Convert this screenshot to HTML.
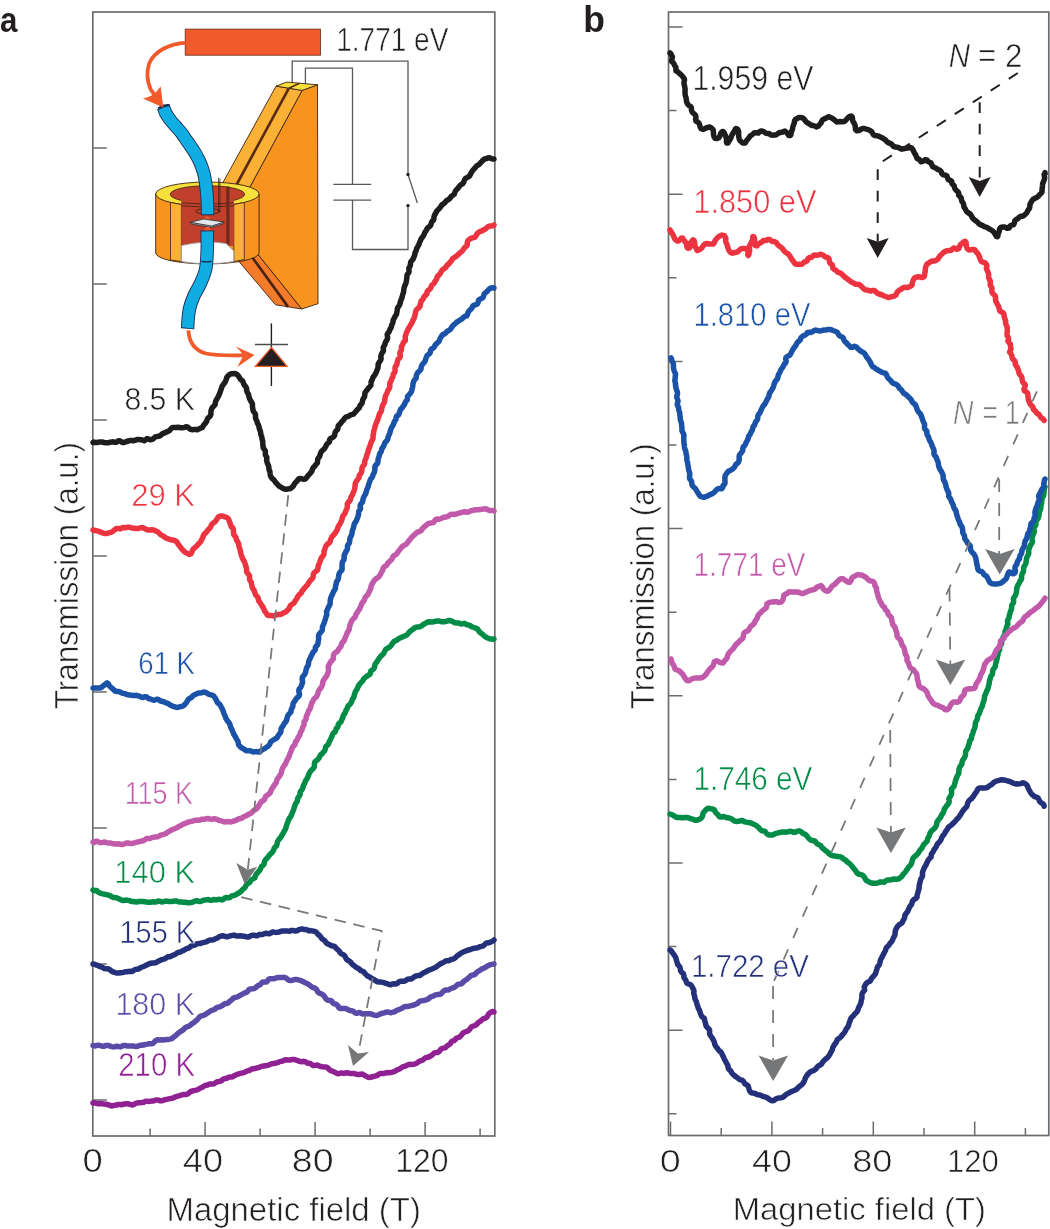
<!DOCTYPE html>
<html><head><meta charset="utf-8"><title>Figure</title>
<style>html,body{margin:0;padding:0;background:#fff;}body{width:1050px;height:1229px;overflow:hidden;}svg{display:block;}</style>
</head><body>
<svg width="1050" height="1229" viewBox="0 0 1050 1229">
<rect x="92.8" y="12" width="402" height="1124" fill="none" stroke="#6b6c6e" stroke-width="1.7"/>
<rect x="668.5" y="12" width="380.3" height="1123.5" fill="none" stroke="#6b6c6e" stroke-width="1.7"/>
<path d="M92.8,148 h14 M92.8,284 h14 M92.8,420 h14 M92.8,556 h14 M92.8,692 h14 M92.8,828 h14 M92.8,964 h14 M92.8,1100 h14 M150.1,1136 v-7.5 M205.1,1136 v-14 M260.1,1136 v-7.5 M315.1,1136 v-14 M370.1,1136 v-7.5 M425.1,1136 v-14 M480.1,1136 v-7.5 M668.5,27 h14 M668.5,110.6 h8 M668.5,194.2 h14 M668.5,277.8 h8 M668.5,361.4 h14 M668.5,445 h8 M668.5,528.6 h14 M668.5,612.2 h8 M668.5,695.8 h14 M668.5,779.4 h8 M668.5,863 h14 M668.5,946.6 h8 M668.5,1030.2 h14 M668.5,1113.8 h8 M670.5,1135.5 v-14 M721.2,1135.5 v-7.5 M771.9,1135.5 v-14 M822.6,1135.5 v-7.5 M873.3,1135.5 v-14 M924,1135.5 v-7.5 M974.7,1135.5 v-14 M1025.4,1135.5 v-7.5" stroke="#6b6c6e" stroke-width="1.5" fill="none"/>
<g id="inset">
<!-- circuit wires -->
<path d="M292.2,84 V61.1 H408 V174.5 M408,205.6 V249.5 H352.5 V200.1 M305.4,88 V68.1 H352.5 V184.3 M333.3,184.3 H371.2 M333.3,200.1 H371.2 M408,174.5 L417.4,203" fill="none" stroke="#58595b" stroke-width="1.3"/>
<circle cx="408" cy="174.5" r="1.7" fill="#231f20"/><circle cx="408" cy="205.6" r="1.7" fill="#231f20"/>
<!-- laser -->
<rect x="185.2" y="29.1" width="135.3" height="26.1" fill="#f15a2b" stroke="#6b2a18" stroke-width="0.8"/>
<!-- prism front face -->
<path d="M302.1,90.4 L317.5,84.8 L318,303.7 L301.7,309 L258.8,255.5 L231.4,221.3 Z" fill="#f7941e" stroke="#3b2314" stroke-width="0.9" stroke-linejoin="round"/>
<!-- upper slanted strip face -->
<path d="M276.1,86.1 L302.1,90.4 L231.4,221.3 L205,215 Z" fill="#fbb036" stroke="#3b2314" stroke-width="0.9" stroke-linejoin="round"/>
<path d="M288.8,88.3 L225,206" stroke="#5b2c14" stroke-width="2.7"/>
<!-- top face -->
<path d="M276.1,86.1 L286.7,82.1 L317.5,84.8 L302.1,90.4 Z" fill="#f5e03c" stroke="#3b2314" stroke-width="0.9" stroke-linejoin="round"/>
<path d="M288.8,88.3 L299.5,83.2" stroke="#5b2c14" stroke-width="1.6"/>
<!-- lower slanted strip -->
<path d="M231.4,221.3 L258.8,255.5 L301.7,309 L275.5,304.8 L236,258 Z" fill="#f47b2a" stroke="#3b2314" stroke-width="0.9" stroke-linejoin="round"/>
<path d="M247,250 L288.1,306.9" stroke="#4a2412" stroke-width="2.7"/>
<!-- cylinder -->
<path d="M155.7,194 L155.7,252.9 A51.7,11 0 0 0 259.1,252.9 L259.1,194 Z" fill="#f7941e" stroke="#3b2314" stroke-width="0.9"/>
<ellipse cx="207.4" cy="194" rx="51.7" ry="12" fill="#f5e03c" stroke="#3b2314" stroke-width="0.9"/>
<ellipse cx="207.4" cy="194.3" rx="37.2" ry="8.6" fill="#c1402b" stroke="#3b2314" stroke-width="0.8"/>
<!-- cut-away front -->
<path d="M170.5,202.5 L181.4,204.5 L181.4,261.5 L170.5,260 Z" fill="#fbb036" stroke="#3b2314" stroke-width="0.8"/>
<path d="M233.8,204.5 L244.3,202.5 L244.3,259.5 L233.8,261.5 Z" fill="#fbb036" stroke="#3b2314" stroke-width="0.8"/>
<path d="M181.4,194.3 L233.8,194.3 L233.8,246 L181.4,246 Z" fill="#c1402b"/>
<path d="M181.4,202.9 Q207.4,205.5 233.8,202.9" fill="none" stroke="#3b2314" stroke-width="0.8"/>
<path d="M181.4,205.8 Q207.4,208.5 233.8,205.8" fill="none" stroke="#3b2314" stroke-width="0.8"/>
<rect x="226.3" y="186.5" width="3.2" height="58" fill="#6e2a1a"/>
<path d="M181.4,245.5 Q207.4,239.5 226,243.5 L233.8,251 L233.8,261.5 Q207.4,266 181.4,261.5 Z" fill="#ffffff" stroke="#9a9a9a" stroke-width="0.9"/>
<!-- coil -->
<ellipse cx="207.7" cy="211.3" rx="12" ry="2.8" fill="none" stroke="#3b2314" stroke-width="0.9"/>
<path d="M218.6,213 V177.7 M219.9,212 V178.5" stroke="#3b2314" stroke-width="0.8"/>
<!-- fiber top -->
<path d="M163.4,106.8 C163.8,107.9 164.7,111.1 165.8,113.3 C167,115.5 168.6,117.8 170.3,120 C172,122.2 174.1,124.5 176,126.7 C177.9,128.9 180,131.1 181.7,133.3 C183.4,135.5 184.8,137.8 186.3,140 C187.9,142.2 189.5,144.5 191,146.7 C192.5,148.9 194,151.1 195.3,153.3 C196.6,155.5 197.8,157.8 198.9,160 C200,162.2 200.8,164.4 201.7,166.7 C202.5,169 203.3,171.3 204,174 C204.7,176.7 205.1,179.4 205.6,182.8 C206.1,186.2 206.6,190.4 206.9,194.2 C207.2,198 207.4,202.1 207.5,205.6 C207.6,209.1 207.6,213.6 207.6,215.2" fill="none" stroke="#1c2b4f" stroke-width="13.4"/>
<path d="M163.7,107.6 C164.1,108.6 164.7,111.2 165.8,113.3 C166.9,115.4 168.6,117.8 170.3,120 C172,122.2 174.1,124.5 176,126.7 C177.9,128.9 180,131.1 181.7,133.3 C183.4,135.5 184.8,137.8 186.3,140 C187.9,142.2 189.5,144.5 191,146.7 C192.5,148.9 194,151.1 195.3,153.3 C196.6,155.5 197.8,157.8 198.9,160 C200,162.2 200.8,164.4 201.7,166.7 C202.5,169 203.3,171.3 204,174 C204.7,176.7 205.1,179.4 205.6,182.8 C206.1,186.2 206.6,190.4 206.9,194.2 C207.2,198 207.4,202.2 207.5,205.6 C207.6,209 207.6,212.9 207.6,214.3" fill="none" stroke="#10ade3" stroke-width="11.6"/>
<path d="M158.3,108.3 Q163.5,104.5 169.4,105.2" fill="none" stroke="#1c2b4f" stroke-width="2.2"/>
<!-- sample -->
<circle cx="207.1" cy="219.2" r="2.6" fill="#f15a2b"/>
<path d="M190.5,222.3 L190.8,224 L211.5,227.6 L224,223.6 L224,222 Z" fill="#8a8f96" stroke="#2d2d2d" stroke-width="0.7" stroke-linejoin="round"/>
<path d="M190.5,222.3 L203.5,219 L224,222 L211.5,226 Z" fill="#e4e7eb" stroke="#2d2d2d" stroke-width="0.8" stroke-linejoin="round"/>
<circle cx="207.6" cy="229.4" r="2.6" fill="#f15a2b"/>
<!-- fiber bottom -->
<path d="M207.2,230.5 C207.2,232.9 207.3,240.9 207.3,245 C207.3,249.1 207.2,251.9 207,255 C206.8,258.1 206.8,260.8 206.4,263.7 C206.1,266.6 206,268.8 204.9,272.2 C203.8,275.6 201.9,280.3 200,284.4 C198.1,288.5 195.3,292.5 193.6,296.6 C191.8,300.7 190.4,304.7 189.5,308.8 C188.6,312.9 188.3,317.7 188,321 C187.7,324.3 187.7,327.5 187.6,328.8" fill="none" stroke="#1c2b4f" stroke-width="13.4"/>
<path d="M207.2,231.4 C207.2,233.7 207.3,241.1 207.3,245 C207.3,248.9 207.2,251.9 207,255 C206.8,258.1 206.8,260.8 206.4,263.7 C206.1,266.6 206,268.8 204.9,272.2 C203.8,275.6 201.9,280.3 200,284.4 C198.1,288.5 195.3,292.5 193.6,296.6 C191.8,300.7 190.4,304.7 189.5,308.8 C188.6,312.9 188.3,317.8 188,321 C187.7,324.2 187.7,326.8 187.6,327.9" fill="none" stroke="#10ade3" stroke-width="11.6"/>
<path d="M201.5,261.3 Q206.5,262.3 211.5,261.3" fill="none" stroke="#1c2b4f" stroke-width="1.2"/>
<!-- arrows -->
<path d="M185.5,42.8 C170,43.5 154,51 149,64 C146.5,72 147.5,82 150.5,89 L156.5,98" fill="none" stroke="#f15a2b" stroke-width="3.8"/>
<path d="M163.3,107.4 L142.9,98.4 Q151,96.8 154.8,93.2 Q158.5,89.8 160.6,86.3 Z" fill="#f15a2b"/>
<path d="M188.4,330.3 C189,342 194,350 206,353.5 C217,356 230,355.3 246,355.2" fill="none" stroke="#f15a2b" stroke-width="3.8"/>
<path d="M254.6,355.1 L235.7,346.6 Q240.5,351 243.4,355.2 Q240.5,361 237.4,367.1 Z" fill="#f15a2b"/>
<!-- diode -->
<path d="M271.4,323.4 V386" stroke="#231f20" stroke-width="1.4"/><path d="M254.9,344.5 H288" stroke="#4d4d4f" stroke-width="1.3"/>
<path d="M271.4,347.4 L287.1,366.3 L255.4,366.3 Z" fill="#231f20" stroke="#f15a2b" stroke-width="1.3" stroke-linejoin="miter"/>
</g>

<path d="M93,1103 L94.1,1102.7 L95.3,1103 L96.8,1103.5 L98.4,1103.7 L100.3,1103.5 L102.2,1103.8 L104.2,1104.1 L106.2,1104.3 L108.1,1104.7 L110,1105.4 L111.6,1106 L113.2,1105.6 L114.8,1105.2 L116.4,1105.1 L118.1,1104.6 L119.8,1104.5 L121.5,1104.7 L123.2,1104.3 L124.9,1103.9 L126.6,1103.7 L128.3,1103.8 L130,1104.4 L131.8,1105 L133.5,1104.7 L135.1,1103.7 L136.8,1102.9 L138.5,1102.8 L140.3,1102.7 L142,1102.5 L143.7,1102.2 L145.2,1101.4 L146.9,1101.1 L148.5,1101.4 L150,1101.3 L151.8,1101.1 L153.5,1100.9 L155.1,1100.4 L156.7,1099.9 L158.2,1100 L159.8,1100.7 L161.3,1100.8 L162.9,1100.5 L164.4,1099.9 L165.9,1099.4 L167.5,1099.2 L169.1,1098.8 L170.7,1098.4 L172.4,1098.2 L173.9,1097.6 L175.4,1096.8 L177.1,1096.3 L178.7,1095.9 L180.3,1095.4 L182,1094.9 L183.6,1094.5 L185.4,1094.4 L187.1,1094.2 L188.6,1093.2 L190,1092 L191.5,1091.2 L193.2,1090.8 L194.9,1090.4 L196.6,1090.1 L198.1,1089.4 L199.6,1088.5 L201.2,1087.7 L202.7,1087 L204.2,1086 L205.7,1085.3 L207.5,1085 L209,1084.3 L210.7,1083.9 L212.6,1084.1 L214.3,1083.7 L215.7,1082.6 L217.2,1081.8 L218.9,1081.5 L220.6,1081.1 L222.1,1080.1 L223.5,1079 L225.1,1078.6 L226.8,1078.2 L228.3,1077.4 L230,1077 L231.8,1077.1 L233.3,1076.4 L234.8,1075.4 L236.3,1074.7 L237.9,1074.2 L239.5,1073.6 L241.1,1073.2 L242.7,1072.9 L244.4,1072.4 L245.9,1071.6 L247.4,1070.9 L249.1,1070.5 L250.6,1069.7 L252.1,1068.8 L253.9,1068.7 L255.6,1068.3 L257.3,1067.8 L259,1067.5 L260.5,1066.8 L262.1,1066.2 L263.7,1065.9 L265.4,1065.7 L267,1065.5 L268.7,1065.1 L270.3,1064.3 L271.8,1063.7 L273.4,1063.5 L275,1063.2 L276.5,1063 L277.9,1062.5 L279.7,1061.6 L281.5,1061.3 L283.2,1060.8 L284.8,1060 L286.5,1059.7 L288.3,1060.1 L290,1060.1 L291.7,1059.5 L293.5,1059.4 L295.3,1059.8 L297,1060.4 L298.6,1061 L300.3,1061.5 L302.1,1061.7 L304,1061.3 L305.7,1061.8 L307.2,1063.1 L309,1063.3 L310.7,1063.7 L312.2,1065.1 L313.8,1065.7 L315.8,1065.2 L317.6,1065.1 L319.2,1066 L320.8,1066.6 L322.6,1066.8 L324.4,1066.9 L326.3,1067 L327.8,1067.9 L329,1069.3 L330.3,1070.4 L331.8,1071 L333.4,1071.6 L334.9,1072.2 L336.3,1073.1 L337.8,1073.8 L339.7,1073.4 L341.5,1072.9 L343.1,1073.3 L344.9,1073.2 L346.6,1072.7 L348.3,1072.9 L350,1073.5 L351.8,1073.6 L353.6,1073.5 L355.4,1073.9 L357.1,1074.4 L358.9,1074.5 L360.6,1074.2 L362.2,1074.1 L364,1074.9 L365.3,1076 L366.7,1076.5 L368.2,1077.2 L370,1077.4 L371.5,1077 L373.2,1076.5 L374.9,1076.1 L376.8,1075.6 L378.4,1074.6 L380.1,1073.5 L382,1073.5 L383.8,1073.6 L385.4,1072.9 L387.1,1072.6 L388.9,1072.8 L390.6,1072.6 L392.3,1072.2 L394,1071.7 L395.5,1070.9 L396.8,1070.1 L398.3,1069.4 L399.9,1068.7 L401.3,1067.7 L402.7,1066.8 L404.4,1066.3 L405.9,1065.8 L407.6,1065 L409.3,1064.3 L411.2,1064.4 L413,1064.3 L414.8,1064 L416.5,1063.3 L418.1,1062.1 L419.5,1061.2 L421,1060.6 L422.6,1060.1 L423.9,1059.1 L425.2,1057.9 L426.9,1057.5 L428.6,1057 L430.1,1056.2 L431.6,1055.4 L432.9,1054.2 L434.2,1052.9 L436,1052.6 L437.9,1052.4 L439.3,1051.3 L440.4,1049.8 L441.7,1048.6 L443.3,1048.2 L445,1047.8 L446.2,1046.8 L447.4,1045.7 L448.8,1044.9 L450.1,1043.9 L451,1042.4 L452.1,1041.2 L453.8,1040.7 L455.1,1039.7 L456.1,1038.3 L457.7,1037.7 L459.4,1037.1 L460.6,1036 L461.7,1034.7 L462.8,1033.3 L464.2,1032.3 L465.8,1031.7 L467.4,1031.1 L468.9,1030.3 L470,1029 L470.9,1027.4 L472.2,1026.4 L473.9,1025.9 L475.5,1025.2 L476.8,1024.2 L477.9,1022.9 L479.3,1021.8 L480.8,1020.9 L482.2,1019.6 L483.7,1018.5 L485.6,1018.1 L487,1017.1 L487.8,1015.5 L488.6,1014.2 L489.5,1013.2 L492.3,1011.5 L494,1012" fill="none" stroke="#8f2193" stroke-width="5.5" stroke-linejoin="round" stroke-linecap="round"/>
<path d="M93,1045.6 L94,1045.7 L95.3,1046 L96.8,1045.4 L98.4,1045.1 L100.3,1045.6 L102.2,1046.2 L104.1,1046.2 L106.1,1045.4 L108.1,1045.4 L110,1046.1 L111.6,1046.6 L113.2,1046.9 L114.9,1046.7 L116.6,1046.2 L118.3,1046.4 L120.1,1046.9 L121.8,1046.3 L123.5,1045.5 L125.2,1045.5 L126.9,1045.9 L128.5,1046 L130,1045.9 L131.8,1045.9 L133.5,1046.1 L135.2,1046.4 L136.9,1046.4 L138.5,1045.8 L140.1,1045.2 L141.6,1045.3 L143.1,1045 L144.5,1044.7 L145.9,1044.4 L147.6,1044.1 L149.2,1043.7 L151,1043.7 L152.8,1043.6 L154,1042.4 L155.1,1041.1 L156.4,1040.1 L157.9,1039.8 L159.7,1039.9 L161.4,1039.8 L163.1,1039.9 L164.9,1039.7 L166.6,1039.5 L168.3,1039.4 L170.1,1039.1 L171.6,1038.7 L172.8,1037.8 L174.1,1036.7 L175.5,1035.7 L176.8,1034.6 L178.1,1033.3 L179.5,1032.3 L180.9,1031.3 L182.3,1030.5 L183.6,1029.5 L184.7,1028.2 L185.9,1027.2 L187.5,1026.6 L189,1026.1 L190.3,1025.2 L191.5,1024.1 L192.8,1023.1 L194.2,1022.3 L195.5,1021.2 L196.7,1020.2 L197.8,1019 L198.9,1017.7 L200,1016.5 L201.6,1015.8 L203.3,1015.3 L205,1014.7 L206.4,1013.7 L207.7,1012.9 L209,1012 L210.3,1011.2 L211.7,1010.4 L213.3,1009.9 L214.8,1009.3 L216,1008 L217.5,1007.3 L219.3,1007.1 L220.8,1006.3 L222.3,1005.5 L223.6,1004.5 L225,1003.6 L226.9,1003.5 L228.4,1002.8 L229.5,1001.4 L230.9,1000.4 L232.2,999.3 L233.5,998.1 L235,997.5 L236.7,997.1 L238.3,996.5 L239.7,995.7 L241.1,994.9 L242.5,994.1 L243.9,993.2 L245.4,992.7 L247,992.1 L248.1,990.7 L249.2,989.4 L250.8,988.9 L252.6,988.8 L254.3,988.5 L255.7,987.6 L256.9,986.3 L258.4,985.4 L260.1,984.7 L261.3,983.3 L262.6,982 L264.6,982.1 L266.5,982 L267.6,980.8 L268.6,979.3 L269.9,978.7 L272.1,978.8 L274.1,978.8 L275.7,978.1 L277.3,977.6 L278.9,977.6 L280.5,977.6 L281.9,977.6 L284,977.3 L285.8,977.8 L287.2,979.1 L288.9,980.2 L290.9,980.6 L292.7,980.1 L294.5,979.5 L296.3,979.5 L298.2,979.8 L300.1,980.3 L302,981.1 L303.4,981.7 L304.8,982.5 L306.4,983.2 L308,983.9 L309.4,984.9 L310.8,986.2 L312.3,987.2 L314,987.9 L315.6,988.6 L316.8,989.9 L317.6,991.7 L318.8,993 L320.6,993.6 L322.3,994.4 L323.7,995.5 L324.7,996.9 L325.7,998.4 L326.8,999.7 L328.5,1000.3 L330.4,1000.4 L331.8,1001.2 L332.6,1002.8 L334,1003.7 L335.6,1004 L336.9,1004.8 L338,1006.1 L339,1007.9 L340.5,1008.6 L342.3,1008.6 L344.1,1008.5 L345.8,1008.6 L347.3,1009.3 L348.7,1010 L350.1,1010.6 L351.9,1010.7 L353.6,1011.5 L355,1012.9 L356.7,1013.3 L358.6,1012.6 L360.4,1012.7 L362,1013.8 L363.7,1014.1 L365.5,1013.7 L367.2,1013.7 L368.9,1013.8 L370.6,1013.8 L372.3,1014.4 L374,1015.1 L375.8,1015.4 L377.5,1015.3 L379.2,1014.5 L380.8,1013.7 L382.5,1013.2 L384.2,1012.9 L385.8,1012.2 L387.6,1011.9 L389.5,1012.5 L391.3,1012.7 L393.1,1012.2 L394.8,1011.6 L396.3,1010.7 L397.9,1009.8 L399.7,1009.3 L401.3,1008.6 L402.9,1007.6 L404.5,1006.8 L406.3,1006.4 L408.2,1006.4 L410,1006 L411.5,1005.5 L413.2,1005.3 L414.7,1004.6 L416.2,1004 L417.7,1003.3 L418.8,1001.9 L420.2,1000.9 L421.9,1000.8 L423.5,1000.5 L425.2,1000.1 L426.7,999.6 L428.2,999 L429.5,998 L430.8,996.8 L432.4,996.4 L433.9,995.8 L435.3,994.9 L436.9,994.6 L438.6,994.5 L440.3,994.2 L441.6,993.2 L442.8,991.8 L444.1,990.8 L445.6,990.1 L447.3,990 L449,989.7 L450.4,988.8 L452,988.2 L453.6,987.7 L455.1,986.9 L456.4,985.6 L457.7,984.5 L459.3,984.1 L461.1,984 L462.4,983.1 L463.4,981.7 L464.7,980.7 L466.1,979.8 L467.4,978.9 L468.6,977.8 L469.8,976.7 L471,975.6 L472.6,975 L474.3,974.7 L475.6,973.7 L476.7,972.4 L478,971.4 L479.4,970.6 L480.7,969.8 L481.9,968.9 L483.6,968.2 L485.3,967.4 L486.9,966.3 L488.5,965.4 L490.1,964.7 L491.7,964.4 L493,964.1 L494,964" fill="none" stroke="#5b4ba9" stroke-width="5.5" stroke-linejoin="round" stroke-linecap="round"/>
<path d="M93,964 L94.2,964.2 L95.9,964.8 L97.8,965.5 L99.8,966.5 L101.9,967.1 L103.2,967.8 L104.5,968.6 L106.1,968.8 L107.9,968.8 L109.4,969.4 L110.8,970.5 L112.2,971.6 L113.9,972.2 L115.3,972.7 L116.9,973.1 L118.5,973.1 L120.1,972.8 L121.8,972.7 L123.4,972.3 L125.1,971.8 L126.8,971.8 L128.4,971.5 L130.1,971.3 L131.8,971.5 L133.4,970.7 L134.8,969.6 L136.5,969.3 L138.3,969.1 L139.8,968.1 L141.4,967.3 L143,966.7 L144.6,966 L146.1,965.3 L147.6,964.4 L149.1,963.7 L150.8,963.3 L152.4,963.1 L154.2,963.1 L155.8,962.7 L157.2,961.7 L158.8,961 L160.3,960.2 L161.8,959.6 L163.5,959.2 L165.2,958.7 L166.6,957.5 L168.1,956.7 L170,956.7 L171.6,956 L173.1,955.1 L174.8,954.6 L176.3,953.5 L177.8,952.5 L179.5,952.3 L181,951.7 L182.3,950.8 L183.9,950.3 L185.3,949.4 L186.7,948.5 L188.4,948.2 L189.8,947.2 L191,946.1 L192.6,945.6 L194.1,945.3 L195.7,944.5 L197.2,943.7 L198.9,943.6 L200.6,943.4 L202.2,942.8 L203.8,942.4 L205.4,942.1 L207,941.5 L208.4,940.5 L210,940 L211.7,940 L213.4,939.7 L214.9,939 L216.5,938.4 L218,937.6 L219.4,936.6 L221,936.1 L222.6,935.7 L224.4,936.1 L226.1,936.8 L227.7,936.7 L229.2,936.1 L230.8,935.8 L232.4,935.4 L234,935.1 L235.6,935.8 L237.2,936.1 L238.8,935.9 L240.4,935.7 L242,935.9 L243.6,936.3 L245.2,936.5 L246.8,936.9 L248.5,937.1 L250,936.2 L251.6,935.4 L253.2,935.3 L254.8,935.3 L256.5,935.8 L258,935.3 L259.5,934.5 L261.2,934.5 L262.8,934.4 L264.3,933.6 L265.9,933.3 L267.6,933.6 L269.3,933.8 L270.8,933.1 L272.3,932.1 L274,932.1 L275.7,932.4 L277.5,932.3 L279.2,932.1 L281,931.3 L282.8,931 L284.6,931.1 L286.3,930.9 L288,931.1 L289.5,931.2 L291,930.6 L293.1,930.4 L295.2,931 L296.9,930.8 L298.5,929.9 L300.2,929.2 L302,928.9 L303.7,929.4 L305.4,929.4 L307.1,929.9 L308.7,930.7 L310.6,930.6 L312.4,930.9 L314.3,931.4 L315.9,931.9 L317.1,933.2 L318.2,934.6 L319.7,935.6 L320.9,937.1 L321.9,938.7 L323.4,939.7 L324.8,940.8 L325.8,942.3 L327,943.5 L328.5,944.2 L329.9,944.9 L331.2,945.7 L332.9,945.9 L334.5,946.3 L335.6,947.6 L336.7,948.8 L338,950 L339.2,951 L340.1,952.5 L341.2,953.8 L343,954.5 L344.5,955.5 L345.4,957.1 L346.1,958.8 L347.3,960 L348.9,960.8 L350.3,961.7 L351.3,963.1 L352.5,964.4 L353.9,965.4 L355.1,966.6 L356.4,967.5 L358,968.2 L359.3,969.1 L360.4,970.4 L362,971 L363.6,971.7 L364.7,973.1 L365.9,974.4 L367.1,975.6 L368.6,976.6 L370.1,977.3 L371.4,978.3 L372.8,979 L374.2,979.7 L375.7,980.8 L377.4,981.7 L379.3,982 L381.2,982.1 L382.9,982.4 L384.5,982.9 L385.9,983.4 L387.7,983.9 L389.1,984.5 L390.6,984.7 L392.2,984 L394,983.8 L395.6,984.1 L397.2,983.4 L398.7,982.1 L400.4,981.3 L402.4,981.3 L404.5,981.2 L406.1,980.3 L407.6,979.2 L409.4,978.9 L411.3,978.9 L412.9,977.9 L414.4,976.8 L416,976 L417.9,975.6 L419.6,975.5 L421,974.7 L422.3,973.6 L423.8,972.8 L425.3,972.1 L426.8,971.2 L428.3,970.4 L429.9,969.8 L431.5,969.2 L433.1,968.4 L434.7,967.7 L436.3,966.9 L437.6,965.8 L439.1,964.8 L440.5,963.8 L442,963 L443.6,962.5 L444.9,961.4 L446.3,960.7 L448.1,960.8 L449.6,960.3 L451,959.5 L452.7,959.1 L454.3,958.6 L455.6,957.4 L456.9,956.1 L458.3,955.1 L459.8,954.1 L461.2,953.1 L462.8,952.2 L464.4,951.5 L466,950.9 L467.7,950.2 L469.5,949.8 L471.2,949.2 L472.8,948.5 L474.6,948.2 L476.5,948.1 L478.2,947.5 L479.7,946.8 L481.5,946.4 L483.2,945.8 L484.6,944.7 L485.9,943.3 L487.4,942.7 L489,942.7 L490.1,942.2 L492.9,941 L494,940" fill="none" stroke="#243079" stroke-width="5.5" stroke-linejoin="round" stroke-linecap="round"/>
<path d="M93,890 L93.8,890.7 L95.1,890.4 L96.6,890.5 L97.8,891.7 L99.3,892.7 L101,893.4 L102.8,893.9 L104.7,894.3 L106.6,894.6 L108.4,895.1 L110.1,895.8 L111.5,896.5 L113,897.4 L114.7,897.6 L116.5,897.7 L118.1,898.4 L119.7,899.2 L121.3,900 L123,900.6 L124.9,900.3 L126.7,900.1 L128.4,900.4 L130,900.9 L131.6,901.5 L133.3,901.5 L135,901.8 L136.6,902.1 L138.3,901.6 L140,901.4 L141.7,901.5 L143.3,901.5 L145,901.8 L146.7,902.1 L148.3,902.2 L150,902.3 L151.7,902 L153.3,901.7 L155,902.1 L156.7,901.7 L158.3,900.9 L160,901.2 L161.7,901.9 L163.4,901.8 L165,901.2 L166.7,901.1 L168.3,901.4 L170,901.5 L171.7,901.4 L173.3,901.3 L175,901 L176.7,901.1 L178.3,901.8 L180,902 L181.6,902 L183.3,902.2 L185,902.3 L186.6,902.6 L188.3,902.8 L190,902.7 L191.7,902.4 L193.4,901.8 L195,901.1 L196.7,900.7 L198.5,901.2 L200.3,901.5 L201.9,900.9 L203.6,900.2 L205.2,900 L206.8,899.8 L208.4,899.6 L210,900.3 L211.8,900.3 L213.6,899.5 L215.3,899.8 L217.1,899.8 L218.7,899.2 L220.3,899.4 L222,899.9 L223.4,899.3 L224.6,898 L225.9,897.5 L228,897.8 L229.7,897.6 L230.9,896.5 L232.1,895.7 L233.6,895.5 L235.3,895.1 L236.6,894.2 L238.1,893.3 L239.6,892.5 L241,891.4 L242.2,890 L243.5,888.8 L244.9,887.7 L245.8,886.2 L246.5,884.5 L247.8,883.5 L249.4,882.6 L250.5,881.2 L251.5,879.6 L253.4,878.6 L254.8,877.8 L255.3,876.3 L255.9,874.8 L256.9,873.5 L257.9,872.2 L259.1,871 L260.2,869.7 L260.8,868 L261.6,866.4 L263.1,865.4 L264.1,864.1 L264.4,862.2 L264.9,860.5 L266.1,859.2 L267.3,857.9 L268.4,856.5 L269.4,855.1 L270.6,853.8 L271.9,852.7 L273,851.5 L273.6,850.1 L274.2,848.3 L275.2,846.9 L276.5,845.9 L277,844.4 L277.2,842.8 L277.7,841.2 L278.7,839.7 L280.1,838 L281,836.9 L281.7,835.6 L282.6,834.2 L283.4,832.7 L284.2,831.1 L285.2,829.7 L285.9,828 L286.3,826.1 L286.9,824.4 L287.7,822.7 L288.1,821 L288.8,819.3 L289.8,817.9 L290.7,816.4 L291.5,814.9 L292.1,813.2 L292.8,811.5 L293.5,809.9 L294,808.2 L294.6,806.5 L295.1,804.9 L295.8,803.4 L296.8,802.1 L297.4,800.7 L297.5,799.2 L297.9,798 L299.4,795.9 L300.2,794.1 L300.1,792.2 L300.9,790.9 L301.9,789.7 L302.7,788.3 L303.2,786.6 L303.6,785.1 L304.5,783.7 L305.1,782 L306,780 L306.9,779 L307.5,777.7 L308.2,776.2 L308.7,774.6 L309.4,773 L310.3,771.6 L311.4,770.2 L312.7,769 L313.8,767.7 L314.4,766.2 L314.4,764.3 L314.6,762.5 L315.6,761.2 L316.9,760.2 L318.1,759.1 L319.1,757.9 L319.7,756.4 L320.5,755 L321.9,753.9 L322.9,752.7 L324,751.5 L324.9,750.2 L325.3,748.6 L325.6,746.9 L326.8,745.7 L328.2,744.6 L328.8,743.1 L329.4,741.5 L330.2,740.1 L330.9,738.6 L331.5,737.2 L332.2,735.7 L332.7,734.2 L333.6,732.9 L335.1,731.9 L335.7,730.4 L336.1,728.8 L337.3,727.6 L338.1,726.1 L338.3,724.4 L339.4,723.1 L340.8,722 L341.5,720.5 L342.1,719 L342.8,717.5 L343.2,715.8 L344,714.4 L345.1,713.1 L345.5,711.5 L346.1,710.1 L347.1,708.7 L347.6,707.1 L348.4,705.7 L349.7,704.6 L350.7,703.4 L351.5,702.1 L352,700.5 L352.5,699 L353.6,697.7 L354.1,696.1 L354.5,694.5 L355,692.9 L355.6,691.2 L356.6,689.8 L357.5,688.2 L358.1,686.6 L358.9,685.1 L360,683.8 L361,682.6 L362,681.6 L362.8,680.6 L363.7,678.9 L364.8,677.8 L366,676.9 L367.2,676 L368.6,675.2 L370.1,674.1 L370.4,672.6 L370.8,671.2 L372.1,670.1 L373.5,669 L374.5,667.5 L374.7,665.7 L375.2,664 L376.3,662.6 L377.3,661.3 L378,660 L379,658.5 L380,657.1 L381.1,655.9 L382.3,654.9 L383.4,653.7 L384.2,652.4 L384.8,651 L385.6,649.6 L387,648.6 L388.5,647.7 L389.9,646.7 L391,645.6 L391.9,644.2 L392.8,642.9 L393.8,641.7 L395.5,640.7 L397.2,639.9 L398.7,638.7 L400.3,637.8 L402.1,637.2 L403.5,636.3 L405.1,635.8 L406.6,635.2 L407.7,634 L408.8,632.6 L409.9,631.5 L411.4,630.3 L412.9,629.1 L414.4,628.1 L416.1,627.3 L418,626.9 L419.8,626.7 L421.4,626 L422.8,624.9 L424.3,623.9 L425.8,623.1 L427.3,622.2 L429,621.8 L430.7,622 L432.4,622 L434,621.6 L435.6,621.3 L437.2,621 L438.8,620.9 L440.4,621.4 L442,621.8 L443.5,621.7 L445,621.7 L446.5,621.3 L448.2,620.6 L450.1,620.6 L451.6,621.1 L453.3,621.9 L455,622.8 L456.9,623 L458.8,623 L460.4,623.8 L462,623.9 L464.1,623.3 L465.7,624 L467.1,624.8 L468.6,624.9 L470.1,625.6 L471.6,626.6 L473.1,627.2 L474.7,627.8 L476.3,628.3 L477.8,629.2 L478.5,630.6 L479.5,631.9 L480.7,633 L482.2,634 L483.5,635.2 L484.7,636.3 L485.9,637.1 L487.7,638 L489.5,638.7 L491.3,639.1 L492.9,639.2 L494,639" fill="none" stroke="#008c47" stroke-width="5.5" stroke-linejoin="round" stroke-linecap="round"/>
<path d="M93,842 L94,842.4 L95.4,841.4 L97,841.2 L98.7,842.1 L100.6,842.7 L102.6,842.4 L104.6,842 L106.5,842.6 L108.3,843.1 L110,842.9 L111.9,843.4 L113.6,843.8 L115.3,844 L117,844 L118.7,843.8 L120.4,844.2 L122.2,844.6 L124,844.1 L125.5,843.4 L127,843 L128.6,843.1 L130.3,843.6 L132,843.5 L133.6,843 L135.2,842.6 L136.9,842.1 L138.5,841.8 L140.1,841.4 L141.7,841 L143.2,840.7 L144.7,839.9 L146.1,838.8 L147.7,838.5 L149.4,838.6 L150.9,838.1 L152.5,837.4 L154.2,837.1 L156,837 L157.6,836.8 L159,836.1 L160.4,835.2 L162,834.8 L163.7,834.4 L165.3,833.8 L166.8,833 L168.1,831.9 L169.6,831 L171.1,830.3 L172.5,829.5 L174,829 L175.7,828.3 L177.3,827.4 L178.8,826.5 L180.4,825.7 L182,824.8 L183.5,824 L185.1,823.4 L186.7,822.7 L188.2,822.1 L189.9,821.6 L191.6,821.3 L193.3,820.9 L194.9,820.4 L196.6,820.1 L198.4,820.3 L200.1,820.1 L201.6,819.3 L203.2,819.2 L204.7,819.3 L206,818.7 L208,818.5 L209.8,819 L211.4,819.2 L212.9,819 L214.4,818.7 L216,818.9 L217.5,819.8 L219.1,820.4 L220.9,820.7 L222.5,821.3 L224.2,821.9 L226,821.7 L227.5,821.5 L229.2,821.7 L231,821.9 L232.8,821.4 L234.5,820.8 L236.3,820.2 L238,819.1 L239.6,818.6 L241.3,818.4 L242.8,817.4 L244.4,816.5 L246.1,815.8 L247.6,814.9 L249.2,814 L250.8,813.3 L252.1,812.2 L253.4,810.8 L254.9,809.8 L256.6,808.9 L257.7,807.5 L258.6,805.9 L259.6,804.4 L260.4,802.9 L261.4,801.5 L263,800.7 L264.4,799.8 L264.9,798.2 L265.5,796.7 L266.7,795.7 L267.9,794.7 L269.3,793.7 L270.4,792.3 L270.9,790.8 L271.5,789.4 L272.3,788.1 L273.3,786.9 L274,785.4 L275.1,784.1 L276.2,782.8 L276.5,781.1 L277.1,779.4 L278.1,778 L279,776.7 L279.9,775.5 L280.8,774.1 L281.4,772.6 L281.7,770.9 L282.1,769.3 L282.8,767.8 L283.7,766.3 L284.7,765 L285.6,763.6 L286.2,762.1 L286.8,760.6 L287.5,759.1 L288.3,757.8 L289.1,756.4 L289.6,754.8 L290.1,753.3 L290.8,751.8 L291.4,750.3 L291.9,748.7 L292.5,747.2 L293.6,745.8 L294.9,744.7 L295.2,743.1 L295.7,741.5 L296.9,740.3 L297.6,738.9 L298.2,737.3 L299.3,736 L300,734.5 L300.3,732.8 L301.1,731.3 L302,729.8 L302.4,728.2 L302.9,726.6 L303.9,725.3 L304.1,723.5 L304,721.7 L305.3,720.4 L306.1,718.8 L306.1,717 L306.8,715.4 L307.6,713.9 L308.1,712.3 L308.6,710.8 L309.6,709.5 L310.3,708.2 L310.8,706.4 L311.1,704.7 L311.7,703.1 L312.6,701.7 L313.3,700.3 L314,698.9 L315.3,697.7 L316.5,696.6 L317.2,695.2 L317.8,693.7 L318.2,692.1 L318.8,690.6 L319.7,689.3 L320.7,688 L321.6,686.7 L322.2,685.3 L322.7,683.7 L322.8,682 L323.4,680.5 L324.4,679.1 L325.3,677.6 L326.5,676.2 L327.2,674.8 L327.7,673.2 L328.4,671.7 L328.5,669.9 L328.3,667.9 L328.3,666.1 L329.2,664.5 L330.1,663 L330.9,661.5 L332.2,660.2 L333.3,658.9 L333.4,657.3 L333.4,655.7 L334.1,653.9 L335.3,652.6 L336.8,651.8 L337.9,650.7 L338.5,649.4 L339.4,648.2 L340.4,647.1 L341.2,645.6 L341.7,643.8 L342.3,642.5 L343.5,641.4 L344.4,640 L344.9,638.4 L345.6,636.8 L346.4,635.3 L346.9,633.6 L347.5,632 L348.7,630.6 L349.3,629.1 L349.4,627.4 L349.8,625.9 L350.3,624.2 L350.9,622.6 L351.6,621.1 L352.5,619.8 L353.6,618.6 L354.8,617.5 L355.4,616.1 L355.9,614.6 L356.8,613.2 L357.6,611.8 L358.5,610.5 L359.5,609.2 L360.2,607.7 L360.8,606.2 L361.3,604.6 L362.1,603.1 L363.1,601.7 L364.1,600.4 L364.7,598.9 L365.2,597.3 L366.3,596.2 L367.5,594.9 L368.5,593.5 L369,591.9 L369.7,590.4 L370.6,589 L370.9,587.4 L371.2,585.7 L371.9,584.3 L372.7,582.9 L373.5,581.7 L374.6,580.2 L375.8,578.9 L377.4,577.9 L378.8,576.8 L379.8,575.5 L380.6,574.1 L381.3,572.5 L382.2,571.2 L382.8,569.6 L383.3,567.9 L384.3,566.7 L385.7,566 L386.9,564.9 L387.6,563.4 L388.7,562.2 L390,561 L391.3,559.9 L392.3,558.6 L392.8,556.8 L394.1,555.5 L395.9,554.7 L397.1,553.4 L398,551.8 L399.1,550.5 L400.2,549.2 L401.3,547.7 L402.5,546.4 L404,545.4 L405.6,544.6 L406.9,543.5 L407.9,542 L409,540.6 L410.2,539.2 L411.2,537.9 L412.4,536.6 L413.7,535.5 L415,534.2 L416.3,533 L417.7,532 L419.6,531.5 L421.1,530.6 L422.1,529.1 L423.2,527.8 L424.4,526.7 L425.7,525.6 L426.9,524.5 L428.3,523.7 L429.9,523.2 L431.5,522.9 L433.1,522.6 L434.3,521.5 L435.3,519.8 L436.8,519.1 L438.7,519.2 L440.3,518.9 L441.7,518.2 L443.2,517.5 L444.7,517.1 L446.3,517 L448,516.3 L449.5,515.2 L451.1,514.3 L452.9,514.2 L454.7,514.4 L456.4,514 L458.1,513.4 L459.8,512.9 L461.5,512.5 L463.1,512 L464.9,511.8 L466.7,512.2 L468.4,512.1 L470,511.2 L471.7,510.5 L473.4,510.2 L475.1,509.8 L476.9,509.7 L478.6,509.7 L480.3,509.4 L482,509.2 L483.8,508.9 L485.9,508.8 L487.8,509.7 L489.6,510.6 L491.5,510.4 L493,510.4 L494,511" fill="none" stroke="#c25aab" stroke-width="5.5" stroke-linejoin="round" stroke-linecap="round"/>
<path d="M93,688 L94.3,688.1 L96.1,688.1 L98.1,688.1 L100,688 L101.5,687.4 L102.9,686.2 L104.4,685 L105.7,684 L107.1,682.9 L108.5,683.9 L109.1,685.6 L110.6,687 L112.2,688.4 L114,690 L115,691 L116.5,691.4 L118.2,691.4 L119.9,691.9 L121.4,692.7 L123.1,693.4 L124.9,693.7 L126.6,694.3 L128.3,694.9 L130,695.1 L131.6,695.2 L133.3,695.4 L134.9,695.4 L136.6,695.3 L138.1,695.8 L139.7,696.3 L141.2,697.1 L142.8,697.6 L144.6,696.7 L146.2,696.7 L147.7,698 L149.2,698.8 L150.9,699.1 L152.5,699.9 L154.1,700.2 L155.9,699.5 L157.6,699.2 L159.1,700 L160.4,701 L161.9,701.3 L163.7,701.7 L165.3,702.5 L167,703.2 L168.7,703.8 L170,704.9 L171.4,705.7 L172.8,706.2 L174.1,706.7 L175.8,707.2 L177.7,707.4 L179.4,706.9 L181.1,706.5 L182.8,706.1 L184.1,705.1 L185.3,703.8 L186.5,702.5 L187.4,700.8 L188.5,699.2 L190.2,698.2 L191.7,697.3 L192.9,695.8 L194.6,694.7 L196.4,693.9 L198.2,693.1 L200,693.1 L201.7,692.8 L203.4,692.1 L205.2,692.2 L206.8,693 L208.2,694 L209.7,694.6 L211.1,694.9 L212.5,695.4 L213.9,696.2 L214.8,697.5 L215.7,699 L216.6,700.6 L217.3,702.4 L218.4,703.4 L219.7,704.3 L220.5,705.6 L221.1,707.1 L222.1,708.5 L222.8,710.1 L223.4,711.7 L223.9,713.4 L224.6,714.9 L225.3,716.5 L225.8,718.1 L226.6,719.5 L227.5,720.9 L228.6,722.2 L229.6,723.6 L230.1,725.1 L230.5,726.8 L231.2,728.3 L232,729.7 L232.5,731.2 L233.2,732.7 L233.7,734.2 L234.6,735.6 L235.6,737.1 L236.3,738.7 L237.3,740.2 L238.1,741.8 L238.3,743.6 L238.8,745.1 L240,746.2 L240.8,747.3 L241.9,748.1 L243.8,749 L245.2,750 L246.6,750.8 L248.3,750.7 L250,750.7 L251.5,751.3 L253.1,751.9 L254.9,751.8 L256.6,751.6 L258.4,752 L260.2,751.5 L261.4,750.3 L262.7,749.5 L264.3,748.8 L265.8,747.8 L267.3,746.8 L268.8,745.6 L269.9,743.9 L270.5,742.3 L271.5,741.2 L272.9,740.3 L274.2,739.4 L275.9,738.6 L277.3,737.5 L278.1,735.7 L279.3,734.1 L280.6,732.4 L281,731 L281,729.3 L281.5,727.8 L282.6,726.5 L283.5,725.1 L284.2,723.5 L285.4,722.1 L286.4,720.6 L286.9,718.9 L287.3,717.1 L287.9,715.5 L288.9,714.1 L290.2,712.9 L291,711.6 L291.1,710.1 L291.9,708.2 L292.8,706.5 L292.9,704.6 L293.4,702.9 L294.4,701.6 L295.4,700.2 L296.2,698.8 L297.3,697.5 L298.9,696.3 L299.5,694.6 L299.1,692.6 L298.8,690.7 L299.2,689 L300.5,687.6 L301.4,686 L301.9,684.3 L302.5,682.7 L302.5,680.9 L302.1,678.9 L302.4,677.2 L303.5,675.8 L304.6,674.3 L305.5,672.7 L305.9,671 L306.2,669.3 L306.7,667.6 L307.7,666.2 L308.4,664.7 L308.5,662.9 L308.8,661.3 L309.4,659.8 L310.2,658.2 L311,656.6 L311.6,655.1 L312.4,653.6 L313.1,652.2 L314.4,650.9 L315.4,649.5 L315.3,647.6 L316.2,646.1 L317.6,644.9 L318,643.3 L318.1,641.6 L318.5,640 L318.7,638.3 L318.5,636.4 L318.8,634.6 L319.9,633.2 L321.2,631.7 L322.3,630.1 L322.4,628.6 L322.4,627 L323,625.5 L323.6,624.1 L324.3,622.6 L324.7,621 L325.3,619.5 L325.7,617.9 L326.1,616.3 L326.8,614.8 L326.7,613 L326.6,611.3 L327.4,609.8 L328,608.3 L328.6,606.8 L329.5,605.4 L330.1,603.9 L330.2,602.2 L330.2,600.5 L330.5,598.9 L331,597.3 L331.6,595.9 L332.4,594.4 L333,593 L333.5,591.5 L334.5,590.2 L335.4,588.6 L335.5,586.9 L335.7,585.4 L336.2,584 L336.3,582.5 L337,581.1 L338,579.7 L338.4,578.1 L338.6,576.1 L339,574.1 L340,572 L341.2,571 L342,569.8 L342.1,568.3 L342,566.6 L342.1,565 L342.1,563.2 L342.6,561.6 L343.7,560.1 L344.2,558.5 L344,556.5 L344.4,554.8 L345.2,553.2 L345.9,551.5 L347,550 L347.6,548.3 L347.4,546.5 L347.9,544.9 L349.1,543.5 L349.6,542 L349.7,540.4 L349.8,538.9 L350.5,537.1 L351.4,535.4 L351.9,533.7 L352.1,531.9 L352.5,530.2 L353.1,528.6 L353.6,527 L353.9,525.4 L354.3,523.8 L355.3,522.5 L356.2,521.1 L356.8,519.6 L357.4,518.2 L357.9,516.7 L358.4,515.1 L358.6,513.4 L358.6,511.6 L359.7,510.2 L360.5,508.7 L360.2,506.8 L360.3,505 L361.2,503.6 L362.3,502.2 L362.8,500.7 L363.1,499 L363.6,497.4 L364.3,495.9 L365.2,494.5 L365.9,493 L366.4,491.4 L366.8,489.7 L367.5,488.2 L368.2,486.7 L368.5,485 L369,483.4 L369.6,481.9 L370.1,480.3 L370.9,478.8 L372.1,477.4 L372.7,475.9 L373.2,474.3 L374.1,472.8 L374.6,471.2 L374.9,469.5 L374.8,467.7 L375.1,466 L376.3,464.5 L377.6,463.2 L378,461.5 L378,459.6 L378.5,458 L379.1,456.4 L379.4,454.7 L380,453.2 L381,451.9 L381.5,450.4 L381.8,448.9 L382.8,447.4 L383.8,445.9 L384.3,444.3 L384.9,442.8 L385.9,441.6 L387,440.4 L387.8,439.1 L388,437.4 L388.5,435.9 L389.2,434.5 L389.8,432.9 L390.3,431.4 L390.7,429.8 L391.2,428.2 L392,426.7 L393,425.3 L393.7,423.7 L394.1,422.1 L395,420.6 L396,419.3 L396.1,417.5 L396.7,416.1 L398.2,415.1 L399.2,413.6 L399.6,412 L400.1,410.4 L400.8,409.1 L402,408 L402.8,406.7 L403.7,405.4 L404.7,404.2 L405.1,402.5 L406.1,401 L407.3,399.9 L407.4,398.2 L407.5,396.5 L408.7,395.1 L409.9,393.8 L411,392.4 L411.7,390.8 L412,389.1 L412.5,387.5 L412.8,385.8 L412.9,384.2 L413.3,382.7 L413.9,380.9 L414.9,379.5 L416.1,378.2 L416.3,376.6 L416.5,374.9 L417.2,373.5 L418.1,372.1 L419.6,370.9 L420.9,369.5 L421.1,367.9 L421.4,366.2 L422.2,364.7 L423.3,363.4 L424.5,362.1 L425.3,360.5 L425.8,358.8 L426.4,357.1 L427.1,355.6 L428.4,354.4 L429.7,353.5 L430.3,352.2 L430.7,350.1 L431.8,348.7 L433.5,348 L434.4,346.7 L435,345.3 L436,344.3 L437,343.2 L438.2,342.2 L439.3,340.8 L439.9,339 L440.8,337.4 L441.7,335.9 L442.8,334.6 L444.5,333.9 L445.8,332.8 L447,331.4 L448.7,330.6 L450.1,329.6 L451.2,328.2 L452.1,326.6 L453.3,325.2 L454.5,324.3 L455.7,323.2 L456.8,322 L458.3,321.2 L459.7,320.3 L461.1,319.4 L462.5,318.5 L463.5,317.2 L464.9,316.3 L466.7,315.9 L467.5,314.4 L468,312.6 L468.9,311.2 L470,310 L471.2,308.9 L472.1,307.5 L472.8,306 L474.1,305.1 L476,304.7 L477.5,303.8 L478.2,302.1 L478.5,300.4 L479.7,299.3 L481.6,298.5 L483,297.5 L483.6,295.9 L484.1,294.2 L485,293 L486.2,292.2 L487.7,290.7 L489.2,289 L490.9,287.9 L492.6,287.8 L494,288" fill="none" stroke="#1a52a8" stroke-width="5.5" stroke-linejoin="round" stroke-linecap="round"/>
<path d="M93,530 L94,530.3 L95.4,530.5 L97.1,530.9 L98.9,531.4 L100.7,532.1 L102.6,532.9 L104.5,533.5 L106.4,533.6 L108,533.1 L109.6,532.7 L111.2,532.3 L112.5,531.4 L113.8,530.5 L115.1,529.5 L116.4,528.4 L118.3,528.4 L120.2,528.9 L121.5,528.1 L122.9,527.4 L124.4,527.7 L125.9,527.7 L127.5,527.2 L129.1,527.2 L130.8,527.7 L132.5,528.1 L134.2,528.3 L136,528.5 L137.5,528.4 L139.2,528.2 L141,527.7 L142.8,527.6 L144.6,528.5 L146.3,529.5 L148.1,530 L149.9,529.9 L151.6,529.7 L153.3,529.9 L154.7,530.5 L155.9,531.1 L157.9,532 L159.3,533.3 L160.4,534.5 L161.9,535.4 L163.4,536.2 L164.6,537.2 L166,538 L167.7,538.7 L169.2,539.3 L170.9,539.7 L172.6,540 L174.5,540.5 L176.4,541.4 L177.4,542.7 L178.2,544.3 L179.4,545.8 L180.6,547.4 L181.8,549 L183.2,550.4 L184.4,551.8 L185.8,552.7 L187.1,553.2 L188,553.9 L189.5,554.4 L191,553.8 L191.8,552.1 L192.4,550.3 L193.6,548.7 L195.3,547.3 L196.9,545.8 L198.2,544.2 L199.3,543.1 L200.4,542 L201.2,540.6 L202,539 L202.8,537.4 L203.3,535.7 L204.2,534.1 L205.6,533 L206.8,531.7 L207.7,530.3 L208.8,529 L210,528 L210.9,526.3 L211.6,524.5 L213.1,523.2 L214.7,522.1 L215.8,520.7 L216.8,519.3 L217.7,517.9 L218.6,516.7 L219.9,516.2 L221,516 L222.4,516 L223.6,516.5 L225.1,516.9 L226.9,517.5 L228.4,518.8 L229.2,520.8 L230,523 L230.4,524.2 L230.8,525.5 L231.4,526.7 L232.5,527.8 L233.4,529.2 L233.5,530.9 L233.5,532.6 L233.7,534.4 L234.7,535.9 L235.9,537.3 L236.3,539.1 L236.8,540.7 L237.9,542.2 L238.7,543.8 L238.8,545.4 L239.2,547 L239.7,548.6 L240.2,550.2 L240.6,551.9 L240.9,553.6 L241.4,555.2 L242,556.9 L242.5,558.5 L243.4,560 L244.3,561.5 L244.9,563.1 L245.4,564.7 L245.8,566.3 L246.4,567.9 L246.6,569.7 L246.6,571.5 L247.4,573.1 L248.7,574.5 L249.6,576 L249.6,577.8 L249.6,579.6 L250.5,581.1 L251.4,582.6 L251.6,584.2 L251.9,585.9 L252.3,587.4 L253,588.8 L253.9,590 L254.6,591.7 L255.1,593.5 L255.8,595.1 L257.1,596.4 L258.1,597.8 L258.4,599.5 L258.8,601 L259.8,602.3 L260.6,603.5 L261.3,604.8 L262.1,606 L263.2,607.5 L263.9,609.2 L264.5,610.9 L265.6,612.2 L266.5,613.5 L267.3,615 L268.6,615.6 L270.2,615.5 L271.6,615.6 L273.2,615.9 L274.9,615.6 L276.6,614.8 L278.4,614.5 L280.3,614.5 L282,613.9 L283.3,612.9 L284.9,612.3 L286.4,611.4 L287.5,610 L288.9,608.8 L289.7,607.2 L290.4,605.5 L291.8,604.5 L293.4,603.5 L294.5,602.1 L295.3,600.6 L296.4,599.2 L297.3,597.7 L298.1,596.1 L299.1,594.9 L300.2,593.9 L301.3,592.8 L301.9,591.4 L302.8,590.1 L303.9,588.9 L305,587.5 L306.2,586.2 L307.2,585.1 L308,583.9 L308.8,582.6 L309.6,581.4 L310.6,580.2 L311.8,579 L312.9,577.7 L313.2,575.9 L313.4,573.9 L314.5,572.4 L316.3,571.1 L317.5,570.1 L317.9,568.7 L318,567 L318.4,565.4 L319.1,563.9 L319.8,562.3 L320.3,560.7 L320.8,559 L321.7,557.5 L322.8,556 L323.8,554.6 L324,552.9 L324,551.1 L324.7,549.6 L325.1,548.2 L325.6,546.8 L326.6,545.1 L327.9,543.6 L329.7,542.6 L330.3,541 L330.7,539.2 L331.5,537.7 L332.2,536.3 L333.5,535.2 L334.6,534 L335.4,532.6 L336.4,531.2 L337.2,529.8 L337.7,528.2 L338.2,526.7 L339,525.3 L339.9,524 L340.6,522.6 L341.3,521.2 L341.9,519.7 L342.3,518 L342.7,516.3 L343.7,514.9 L344.8,513.7 L345.4,512.2 L345.9,510.6 L346.6,509.1 L347.3,507.5 L347.3,505.6 L347.3,503.8 L348.3,502.3 L349.6,501 L350.5,499.5 L350.8,497.9 L351.3,496.4 L352.3,495.1 L353,493.4 L353.6,491.7 L354.3,490 L354.7,488.4 L355,486.7 L355.1,485 L355.3,483.3 L356.1,481.9 L357,480.4 L358,479 L359,477.6 L359.2,475.8 L360,474.3 L361.2,473 L361.7,471.4 L361.9,469.6 L362,467.9 L362.8,466.3 L364.1,464.9 L364.7,463.3 L364.7,461.5 L365.2,459.9 L365.9,458.4 L366.4,456.7 L366.8,455.1 L367.5,453.5 L368,451.8 L368.3,450.1 L369,448.4 L369.7,446.8 L370.2,445.1 L370.7,443.6 L371.2,442.2 L371.8,440.7 L372.6,439.4 L373.1,437.9 L373,436.2 L373.2,434.6 L373.6,433.1 L373.7,431.4 L374.2,429.8 L374.7,428.2 L375,426.5 L375.6,424.9 L376.1,423.4 L376.7,421.9 L377.5,420.4 L377.9,418.8 L378.5,417.2 L379,415.6 L379.5,413.9 L380.5,412.4 L381.4,410.9 L381.7,409.1 L382,407.4 L382.5,405.8 L383.2,404.2 L384.1,402.8 L384.6,401.2 L384.8,399.4 L385.1,397.7 L385.5,396.1 L386.2,394.5 L387,393 L387.5,391.5 L388.2,389.9 L389.1,388.5 L389.8,387 L389.8,385.2 L389.7,383.4 L390.5,382 L391.2,380.5 L391.7,378.9 L392.6,377.4 L393,375.8 L393.3,374.1 L394.5,372.7 L395.1,371.1 L395,369.3 L395.1,367.5 L395.8,366 L396.9,364.5 L397.1,362.9 L397.4,361.3 L397.9,359.8 L398.9,358.5 L400.1,357.3 L400.4,355.5 L399.8,353.5 L400.2,351.8 L401.3,350.4 L401.5,348.8 L401.4,347.1 L402,345.7 L402.8,344.3 L403.2,342.9 L404.1,341.6 L405.4,340.5 L405.3,338.6 L405.2,336.6 L405.8,335.1 L406.2,333.4 L406.8,331.8 L407.5,330.4 L408.2,328.9 L409.2,327.5 L410,326 L410.8,324.5 L411.8,323.1 L412.5,321.5 L413.1,319.8 L414,318.4 L414.6,316.8 L414.9,315.1 L415.4,313.5 L415.6,311.8 L416.2,310.1 L417.4,308.9 L418.9,307.7 L419.9,306.4 L420.3,304.7 L420.6,303.1 L421,301.4 L422.1,300.1 L423.2,298.9 L423.7,297.4 L424.6,296 L425.9,295 L426.9,293.7 L427.1,291.9 L427.9,290.5 L429.4,289.5 L430.5,288.4 L431.1,286.8 L431.8,285.3 L433,284.2 L434.3,283 L434.9,281.5 L435.9,280.2 L436.7,278.9 L437,277.2 L437.9,275.9 L439.2,274.8 L440.2,273.4 L441,272 L441.9,270.6 L442.9,269.4 L444.2,268.5 L445.6,267.6 L446.4,266.3 L447.4,265 L448.7,264 L449.7,262.7 L450.7,261.4 L451.7,260.2 L452.5,258.7 L453.8,257.8 L455.4,256.9 L456.7,255.8 L458,254.7 L459.2,253.5 L460.6,252.3 L462.1,251.1 L463.1,249.9 L464,248.4 L465.2,247.1 L466.8,246 L467.3,244.2 L467.3,242 L468,240.4 L469.4,239.4 L471,238.4 L472.7,237.7 L474.5,237.4 L475.7,236.4 L476.5,234.7 L477.5,233.3 L478.7,232.2 L480.3,231.4 L482,230.8 L483.5,230 L485,229.3 L486.2,228.4 L487.6,227 L489.4,226.1 L491.4,226 L493,225.8 L494,225" fill="none" stroke="#ec3340" stroke-width="5.5" stroke-linejoin="round" stroke-linecap="round"/>
<path d="M93,442.4 L94,442.1 L95.3,442.6 L96.8,442.5 L98.4,442.2 L100.3,441.9 L102.2,442 L104.1,442.5 L106.1,442.8 L108.1,442.7 L110,442.3 L111.5,441.9 L113.1,441.8 L114.8,442.3 L116.5,442.2 L118,440.9 L119.7,440.7 L121.6,442.2 L123.3,442.7 L125,442.1 L126.6,441.5 L128.3,441 L130,440.6 L131.7,440.5 L133.4,440.7 L135.2,440.3 L137,439.6 L138.8,439.6 L140.6,439.7 L142.4,440 L144.2,440.7 L145.7,439.9 L147.1,438.5 L148.7,439 L150.2,439.8 L152.4,439.4 L154,438.1 L155.2,436.9 L156.7,436.6 L158.4,436.3 L160.3,435.6 L161.5,434.5 L162.8,433.5 L164.6,433 L166.1,432.1 L167.8,431.4 L169.5,430.6 L170.7,429.1 L172.1,427.8 L173.7,427.5 L175.7,427.4 L177.6,427.2 L179.5,427.5 L181.3,427.8 L182.9,427.7 L184.5,427.3 L186,426.7 L187.9,427.2 L189.3,428.5 L190.7,429.4 L192.4,429.7 L194,429.4 L195.6,429.4 L197.3,429.8 L198.8,429.1 L200.4,428.3 L202.4,427.4 L203.1,426.2 L203.7,425 L204.7,423.9 L205.8,422.6 L206.7,421.2 L207.2,419.4 L208.2,417.8 L210,416.4 L210.9,414.5 L210.9,412.9 L211,411.3 L211.3,409.8 L211.9,408.3 L212.9,406.9 L214.3,405.6 L215.2,404.2 L215.4,402.3 L215.9,400.7 L216.8,399.2 L217.6,397.7 L218.4,396.2 L219.1,394.8 L219.7,393.4 L220.1,392.1 L220.8,390.1 L221.5,388.2 L222.1,386.3 L223.1,384.8 L224.3,383.3 L225.2,381.9 L225.9,380.4 L226.4,379 L226.7,377.6 L227.4,376.6 L229.6,374.5 L231.3,373.7 L233,373.7 L234.3,373.6 L235.8,373.8 L237.3,374.7 L238.6,376.2 L239.8,378.2 L240.4,379.2 L241.5,380 L242.7,381 L243.2,382.4 L243.7,384 L244.6,385.4 L245.8,386.8 L246.6,388.4 L246.6,390.4 L247.2,392.2 L248.3,393.9 L248.7,395.3 L248.9,396.8 L249.5,398.3 L250.1,399.8 L250.9,401.3 L252,402.7 L252.5,404.3 L252.4,406.2 L252.7,407.9 L252.9,409.7 L253.4,411.4 L254.6,412.9 L255.5,414.5 L255.5,416.3 L255.5,418.1 L256.2,419.7 L256.9,421.2 L257.3,422.9 L258.2,424.5 L258.9,426.2 L259.2,427.9 L259.7,429.7 L260.4,431.3 L260.7,433.1 L260.9,434.8 L261.6,436.4 L262,438 L262.1,439.6 L262.7,441.1 L262.8,442.6 L262.8,444.1 L263,446.2 L263.3,448.1 L264.5,449.7 L265.4,451.2 L265.4,452.9 L265.3,454.5 L265.9,455.9 L266.8,457.1 L266.8,458.6 L266.6,460.1 L267,462 L267.6,463.8 L268.4,465.4 L268.8,467 L268.9,468.7 L269.2,470.1 L269.9,471.4 L270.1,473.6 L270.4,475.6 L271.2,477.2 L272.4,478.8 L273.6,479.6 L274.6,480.9 L275.6,482.3 L276.8,483.6 L278,485 L279.2,486.1 L280.9,487.2 L282.6,488.2 L284.4,489 L286.2,489.3 L287.6,488.9 L289,488.8 L290.6,488.5 L291.9,487.3 L293.3,486.1 L294.1,484.5 L295.1,482.9 L296.5,481.6 L297.6,480.2 L298.6,478.9 L300.2,478.5 L301.9,478.7 L303.5,479.3 L305.2,479.1 L306.2,478 L307.2,476.7 L308.3,475.3 L309.7,473.8 L311.1,472.4 L312.1,470.6 L312.5,469.1 L313.2,467.7 L314.3,466.6 L315.3,465.3 L316.4,464 L317.4,462.7 L317.6,460.8 L317.8,458.9 L318.7,457.7 L319.6,456.4 L320.1,454.8 L320.6,453.1 L321.3,451.6 L322.5,450.3 L323.9,449.2 L324.9,447.9 L325.7,446.6 L326.3,445.2 L327.2,443.7 L328.6,442.8 L329.5,441.6 L329.6,439.7 L330.5,438.5 L332.2,437.8 L333.6,436.8 L334.6,435.4 L334.9,433.8 L335.2,432.1 L336.2,430.8 L337.6,429.5 L338,427.7 L338.2,425.9 L339.4,424.6 L340.6,423.5 L341.4,422.2 L342.3,421.2 L343.6,419.8 L344.6,418.3 L345.8,417.2 L347.3,416.7 L348.8,416.1 L350.1,415.1 L351.7,414.6 L353.3,414.2 L354.5,413 L355.7,411.7 L356.7,410.3 L358,409 L359.2,408 L359.7,406.4 L360.4,404.9 L361.8,403.7 L362.4,402 L362.6,400.2 L363.3,398.6 L364.3,397.2 L364.8,395.5 L364.8,393.7 L365.4,392.1 L366.4,390.8 L367.5,389.5 L368.4,388.1 L369.6,386.8 L370.8,385.4 L371,383.7 L371.1,381.9 L371.9,380.4 L372.5,378.8 L373.1,377.2 L374.2,375.8 L375.2,374.3 L375.9,372.8 L376.6,371.3 L377.2,369.6 L377.9,368.1 L378.1,366.3 L378.1,364.5 L378.8,363 L379.7,361.5 L380.7,360.1 L381.1,358.6 L380.8,356.9 L381.1,355.2 L381.7,353.7 L382.4,352.4 L383.3,351.1 L383.5,349.5 L383.2,347.7 L384,346 L384.9,344.7 L385.1,343.2 L385.8,341.6 L386.8,340.2 L387.5,338.6 L387.5,336.6 L387.2,334.6 L388,333 L389.2,331.5 L389.8,329.9 L390.6,328.4 L391.4,326.9 L391.6,325.2 L392.4,323.7 L393,322.1 L393.1,320.4 L393.9,318.8 L394.6,317.3 L395.5,315.7 L396.5,314.2 L396.8,312.5 L397.1,310.9 L397.3,309.2 L397.7,307.6 L398.8,306.2 L399.7,304.7 L400.1,303 L400.5,301.3 L401.2,299.6 L401.9,297.9 L402.3,296.1 L402.7,294.6 L403.3,293.1 L403.6,291.6 L403.8,289.9 L404,288.2 L404.5,286.6 L405.1,285 L405.8,283.5 L406.2,281.8 L406.5,280.2 L406.8,278.5 L406.9,276.9 L407,275.3 L407.7,273.9 L408.9,272.3 L409,270.5 L408.8,268.5 L409.5,267 L410.3,265.4 L410.5,263.8 L410.7,262 L411.7,260.6 L413,259.3 L413.6,257.7 L414.3,256.1 L414.8,254.6 L415,252.9 L415.8,251.4 L416.4,249.8 L416.8,248.1 L417.7,246.7 L418.6,245.2 L419.2,243.7 L419.7,242.1 L420.4,240.6 L421,239.2 L421.8,237.9 L423,236.5 L423.8,235.1 L424.4,233.5 L425.1,232.1 L426,230.8 L426.8,229.4 L427.5,228 L428.8,227 L430.2,226 L431,224.6 L431.3,222.8 L432.1,221.4 L433.5,220.2 L433.9,218.5 L434,216.6 L434.6,215 L435.4,213.7 L436.1,212.3 L436.9,211 L437.9,209.9 L439.2,208.6 L440.3,207.3 L441.2,205.9 L442.1,204.6 L443.5,203.8 L444.7,202.9 L445.6,201.6 L446.7,200.5 L448.2,199.7 L449.5,198.8 L450.5,197.5 L451.4,196.2 L452.8,195.3 L454.2,194.2 L454.8,192.6 L455.4,191 L456.6,189.7 L457.8,188.4 L458.9,187 L459.9,185.6 L461.3,184.5 L462.7,183.6 L463.8,182.1 L464.3,180.3 L465.2,178.8 L466.6,177.8 L468.2,176.9 L469.6,175.9 L470.4,174.4 L471.2,172.8 L472.2,171.2 L473.2,169.8 L474.4,168.5 L475.6,167.3 L476.7,165.9 L478.1,165.1 L479.6,164 L480.7,162.6 L482,161.4 L483.1,160.1 L484.4,159 L485.9,158.7 L487.6,157.9 L489.6,157.7 L491.4,158.5 L492.9,159.1 L494,159" fill="none" stroke="#1e1c1d" stroke-width="5.5" stroke-linejoin="round" stroke-linecap="round"/>
<path d="M670,950 L671.1,950.6 L672.6,952.9 L673.2,953.7 L674,954.8 L674.8,956 L675.7,957.4 L676.1,959.1 L676.6,960.8 L677.2,962.6 L677.7,964.5 L678.8,965.7 L679.9,967 L680.3,968.8 L680.6,970.7 L681.6,972.3 L683.3,973.7 L683.9,975.4 L683.9,977.3 L684.7,978.7 L685.7,979.9 L686.3,981.7 L686.9,983.2 L688.2,983.9 L689.8,984.3 L691.1,985.2 L692.1,986.7 L693,988.7 L693.7,989.9 L694,991.4 L693.7,993.1 L694.1,994.8 L694.7,996.4 L694.8,998.3 L695.5,1000 L696.4,1001.6 L696.7,1003.4 L697.3,1005.1 L697.9,1006.7 L698.3,1008.2 L699.1,1009.5 L699.8,1011.3 L700.3,1013 L700.9,1014.6 L701.5,1016.1 L702.7,1017.2 L704.1,1018.2 L704.6,1019.7 L704.9,1021.5 L705.6,1023.2 L705.7,1024.7 L706.2,1026.1 L707.2,1027.4 L708.6,1028.7 L709.6,1030.1 L709.6,1031.9 L709.6,1033.6 L710.2,1035.2 L711.2,1036.6 L712.2,1037.9 L712.9,1039.3 L713.7,1040.6 L714.3,1042.2 L714.7,1044 L715.3,1045.6 L716.3,1047 L717.4,1048.3 L718.3,1049.7 L719.5,1050.9 L720.9,1051.9 L721.7,1053.3 L722.3,1054.8 L723.2,1056.4 L723.9,1058 L724.6,1059.7 L725.5,1061.2 L726.3,1062.7 L727.1,1064.2 L727.9,1065.6 L728.1,1067.3 L728.5,1068.9 L729.9,1070.1 L731,1071.4 L731.8,1073 L732.9,1074.3 L734.2,1075.4 L735.3,1076.4 L736.6,1077.2 L737.8,1078 L739.2,1079.3 L740.8,1079.8 L742.2,1080.2 L743.3,1081.3 L744.3,1082.8 L745,1083.9 L746.5,1084.7 L748,1085.8 L748.6,1087.4 L749.1,1089.3 L749.7,1091 L750.9,1092.4 L752.6,1093.1 L754.5,1093.3 L756.2,1094.1 L757.9,1094.8 L759.8,1094.9 L761.4,1095.6 L762.8,1096.4 L764.6,1096.9 L766.5,1097.4 L768,1098.2 L769.2,1099.4 L770.5,1100.2 L772,1100.8 L773.8,1100.5 L775.4,1099.3 L777,1098.5 L778.8,1097.9 L780.9,1097.7 L782.5,1097.4 L783.9,1096.5 L785.1,1095.3 L786.5,1094.2 L788.1,1093.4 L789.9,1092.4 L791.3,1091.6 L792.9,1091 L794.7,1090.3 L796.3,1089.3 L797.7,1088.1 L799,1086.8 L800.4,1085.6 L801.8,1084.7 L803,1083.4 L803.9,1081.8 L804.6,1080.3 L805.1,1078.6 L805.9,1077.1 L806.9,1075.5 L808,1074 L809.2,1072.9 L810.4,1071.8 L812,1071.1 L813.7,1070.6 L815.1,1069.6 L816.3,1068.3 L817.3,1066.9 L818.5,1065.7 L820.1,1065.1 L821.5,1064.1 L822.3,1062.6 L823.3,1061.3 L824.4,1060.2 L825.6,1059.1 L827,1058.1 L828.2,1056.8 L829.3,1055.2 L830.1,1053.9 L830.8,1052.4 L831.7,1050.9 L832.4,1049.3 L832.8,1047.4 L833.7,1045.9 L834.7,1044.4 L835.7,1042.9 L836.6,1041.6 L837.1,1040.1 L838,1039 L839.9,1037.8 L841.1,1036.7 L841.9,1035.3 L843,1034.2 L844.1,1033 L845.1,1031.4 L845.7,1030.1 L846.4,1028.7 L847.5,1027.4 L848.4,1025.9 L848.8,1024.1 L849.4,1022.5 L850,1020.9 L850.4,1019.3 L851.2,1017.9 L852.6,1016.5 L853.7,1015.3 L854.6,1014.1 L855.8,1013 L857.1,1011.6 L858.1,1009.3 L858.4,1008.1 L859,1006.8 L859.8,1005.4 L860.6,1003.8 L861,1002.1 L861.3,1000.3 L861.9,998.5 L861.9,996.6 L861.9,994.7 L862.4,992.9 L863.5,991.5 L864.6,990.2 L864.5,988.7 L864.2,987.1 L865.3,984.9 L866.5,983.2 L867.8,982.1 L869.5,981.5 L870.6,980.4 L871.4,978.7 L872.3,977.5 L873.3,976.4 L874.3,975.2 L875.3,974 L875.9,972.4 L876.3,970.8 L876.9,969.1 L877.3,967.3 L878.1,966.1 L879.3,964.8 L879.8,963.2 L880.1,961.4 L880.6,959.7 L881.5,958.2 L882.3,956.6 L883,955.1 L883.8,953.6 L884.5,952.3 L885.5,950.5 L886,948.6 L886.8,947.1 L888.3,945.9 L889.3,944.5 L890.3,943 L891.6,941.6 L892.5,940.3 L893,938.7 L893.7,937.2 L894.6,935.8 L895.1,934.1 L895.1,932.2 L895.4,930.5 L896.1,929 L896.8,927.6 L897.8,926.2 L898.9,925 L900.3,924 L901.8,923.1 L902.6,921.8 L903.2,920.3 L904.1,918.9 L904.7,917.3 L904.8,915.6 L905.5,914.2 L906.6,912.9 L907.6,911.5 L908.3,910 L909,908.4 L909.7,906.9 L910.5,905.6 L911.6,904.4 L912,902.8 L912.4,901.3 L913.4,900.3 L914.2,899.2 L915.8,898.5 L917,897.3 L917.1,895.2 L917.8,893.1 L918.1,891.8 L918.4,890.4 L919,888.9 L919.1,887.3 L919.2,885.5 L919.6,883.8 L920.1,882 L920.5,880.2 L921.1,878.5 L922.2,876.9 L922.6,875.1 L922.4,873.2 L922.8,871.6 L923.4,870.1 L923.9,868.7 L924.7,867 L925.7,865.4 L926.5,863.9 L927.1,862.3 L927.8,860.8 L928.7,859.5 L929.7,858.3 L931,857.2 L931.3,855.6 L931.4,853.9 L932.4,852.7 L933.4,851.2 L934.2,849.5 L935.3,848.1 L936.2,846.6 L936.9,845 L937.8,843.5 L939.1,842.3 L940.2,841 L941,839.6 L941.7,837.8 L942.5,836.1 L943.8,834.8 L944.7,833.3 L945.5,831.7 L946.6,830.3 L947.5,828.9 L948.2,827.5 L949.8,826.2 L951.4,825.1 L952.7,823.7 L953.9,822.5 L955.2,821.3 L956.3,819.9 L957.4,818.7 L958.6,817.5 L959.5,816.2 L960.4,814.9 L961.3,813.5 L962.1,812 L963.1,810.8 L964,809.4 L965.2,808.1 L966.5,806.9 L967.2,805.4 L967.5,803.7 L968,802.3 L969,800.8 L970.2,799.6 L971.5,798.7 L972.5,797.4 L973.6,796.1 L974.3,794.7 L975.2,793.4 L976.4,792 L977.2,790.4 L978,788.9 L979.4,788 L981.5,787.9 L983.5,787.9 L985.5,787.9 L987.5,787.5 L988.5,786.4 L989.8,785.5 L991.4,784.8 L992.7,783.6 L993.8,782.4 L995.2,781.6 L996.8,780.9 L998.4,780.6 L1000,780.1 L1001.5,779.7 L1003.1,780 L1004.6,780.1 L1006.2,780.5 L1007.8,781 L1009.4,781.4 L1010.9,782.1 L1012.5,782.8 L1014,783.5 L1015.6,784 L1017.3,783.8 L1018.8,783.9 L1021,783.6 L1022.8,782.8 L1024.4,783.2 L1025.2,783.8 L1026.6,784.7 L1027.5,786.2 L1028.1,787.9 L1028.9,789.6 L1029.8,791.1 L1030.5,792.5 L1031.5,793.9 L1032.8,795.1 L1034,796.2 L1035.5,796.9 L1037.1,797.4 L1038.3,798.4 L1039,800 L1039.8,801.7 L1041.4,802.9 L1043,803.9 L1044,805 L1044.1,806.2" fill="none" stroke="#243079" stroke-width="5.5" stroke-linejoin="round" stroke-linecap="round"/>
<path d="M670,814 L671.3,814.5 L673.1,815.3 L674.9,816.6 L676.9,817.4 L678.5,817.4 L680.2,817.5 L681.8,817.8 L683.4,817.8 L684.9,817.6 L686.6,817.5 L688.4,817.8 L690,818.5 L691.6,818.9 L693.1,819.2 L694.7,820.2 L696.5,820.3 L698.2,819.7 L699.8,819.1 L701.1,818.1 L702.2,816.8 L702.8,814.9 L703.2,812.9 L704.4,811.5 L705.4,810.4 L706.4,809.3 L707.9,808.3 L709.7,808.4 L711.4,809 L713,809.1 L714.4,809.9 L715.1,811.7 L716.4,813.4 L718,814.6 L718.9,816.2 L720.3,817.1 L722,816.9 L723.7,816.5 L725.3,817 L726.8,817.7 L728.5,817.8 L730.4,818.3 L732,819.2 L733.5,820.3 L734.9,821.3 L736.6,821.4 L738.2,821.2 L739.8,821.1 L741.4,820.4 L743,820.7 L744.5,821.8 L746.1,822.1 L747.7,822.4 L749.3,822.6 L751,823 L752.6,823.8 L754.5,824.5 L756.2,825.5 L757.7,826.8 L759,828 L760.3,829.6 L761.7,830.7 L763.7,830.9 L765.2,831.6 L766.3,833.1 L767.6,834.4 L769.2,835 L771,835.1 L772.5,835 L774,834.4 L775.5,833.5 L777.2,833.1 L778.9,832.6 L780.6,832.4 L782.2,832 L783.9,831.9 L785.6,832.3 L787.1,832.1 L788.6,831.6 L790.3,831.3 L791.9,831.6 L793.5,832.3 L795,832.3 L797,831.3 L799,830.8 L801.1,831.7 L802.2,832.8 L803.4,833.7 L805.1,834.3 L806.6,835.4 L807.6,837 L808.8,838.3 L809.9,839.5 L811.4,840.4 L813.4,840.5 L815,841.1 L816,842.5 L817.1,843.8 L818.7,844.6 L820.3,845.2 L821.3,846.6 L822.4,848 L823.7,849 L824.9,850.1 L826.5,851.3 L828,852.5 L829.4,854 L830.9,855.1 L832.7,855.8 L834.5,856 L836.3,856.2 L838,856.6 L839.6,856.7 L841,856.9 L842.3,857.8 L843,858.7 L845.1,859.9 L846.2,860.6 L847.1,861.9 L848.5,862.8 L850,863.9 L851.2,865.4 L852.5,866.8 L853.6,868.4 L854.8,869.8 L855.9,871.1 L856.9,872.8 L858.4,874 L860.5,874.5 L862.4,875.1 L863.7,876.3 L864.8,877.8 L865.6,879.4 L866.5,880.6 L868.5,881.7 L870.2,882.5 L871.7,883.1 L873.6,883.3 L875.2,883.3 L877,883.2 L878.8,882.6 L880.5,881.9 L882.4,882.1 L884.3,882.2 L885.8,880.9 L887.5,879.9 L889.4,880 L891.2,879.8 L892.9,879.2 L894.7,879 L896.6,879.2 L898.5,879 L900.1,877.8 L901.3,876.9 L902.4,875.6 L903.3,874.1 L904.6,872.9 L905.8,871.4 L906.8,869.7 L908.1,868.1 L908.9,866.8 L910.1,865.6 L911.1,864.3 L911.7,862.6 L912.2,860.9 L912.7,859.1 L913.5,857.6 L914.9,856.4 L916.2,855.3 L917.3,854.2 L918.5,852.8 L919.3,851.2 L920.3,849.8 L921.5,848.6 L922.4,847.2 L923,845.7 L923.9,844.4 L925.1,843.3 L926.2,842 L927.3,840.7 L927.6,839 L928.2,837.5 L929.1,836.2 L929.6,834.6 L930.1,833 L931,831.6 L932.1,830.4 L933.4,829.3 L934.7,828.2 L935.6,826.9 L936.3,825.4 L936.8,823.8 L936.9,822 L937.8,820.7 L938.8,819.5 L939.8,818.3 L940.8,817 L941.4,815.4 L942.3,813.8 L943.3,812.7 L943.8,811.2 L944.1,809.6 L944.8,808.1 L946,806.8 L947,805.3 L948.2,803.9 L949.1,802.4 L949.1,800.5 L948.9,798.8 L949.6,797.3 L950.7,796 L951.2,794.4 L951.7,792.8 L951.6,791 L951.4,789.2 L952.6,787.8 L953.9,786.4 L954.4,784.7 L954.9,783.2 L955.3,781.5 L955.7,779.9 L956.4,778.3 L957,776.6 L957.8,775 L958.8,773.5 L958.8,771.7 L958.9,770 L959.4,768.4 L959.8,766.9 L960.9,765.5 L961.9,764 L962,762.4 L962.4,760.8 L963.1,759.5 L964,758.2 L964.9,756.8 L965.4,755.2 L965.6,753.3 L965.6,751.7 L966.3,750.3 L967.4,748.9 L968,747.4 L968.3,745.6 L969.1,744.1 L969.4,742.3 L969.8,740.7 L971.1,739.3 L971.6,737.6 L971.7,735.8 L972.5,734.3 L973,732.7 L973.3,731 L974.1,729.5 L974.7,727.9 L975.2,726.3 L975.3,724.6 L975.4,722.8 L976.1,721.3 L977,719.8 L977.5,718.2 L977.6,716.5 L978.2,715 L979.3,713.6 L979.7,712 L980.3,710.5 L980.8,709 L981.5,707.4 L982.4,706 L982.7,704.3 L983.1,702.5 L983.8,700.9 L984.3,699.3 L984.4,697.6 L984.6,695.9 L985.5,694.2 L986.1,692.5 L986.8,690.8 L987.7,689.2 L988.2,687.4 L988.6,685.7 L989.1,684.1 L989.2,682.4 L989.5,680.8 L990,679.5 L990.4,677.5 L991.1,675.9 L992.2,674.5 L992.6,672.9 L992.6,671.2 L993.1,669.7 L994,668.5 L994.9,667.2 L995.4,665.6 L995.6,664 L995.9,662.4 L996.5,660.9 L997,659.3 L997.2,657.7 L997.6,656.1 L998,654.4 L998.2,652.6 L998.9,650.9 L999.6,649.5 L999.5,647.8 L999.8,646.3 L1000.8,644.9 L1001.6,643.4 L1001.7,641.7 L1002,640 L1002.8,638.4 L1003.4,636.7 L1004.4,635.1 L1005.2,633.3 L1005,631.8 L1005.6,630.4 L1006.3,628.9 L1006.5,627.3 L1007.1,625.8 L1007.8,624.2 L1007.7,622.5 L1007.5,620.7 L1008.2,619.2 L1009,617.6 L1009.2,616 L1009.6,614.4 L1010.1,612.8 L1010.5,611.3 L1011.1,609.9 L1011.6,608.2 L1011.6,606.3 L1012,604.6 L1013.2,603.1 L1013.7,601.4 L1013.4,599.6 L1013.7,597.9 L1014.6,596.5 L1015.5,595 L1016.1,593.5 L1016.5,591.9 L1016.6,590.2 L1016.8,588.5 L1017.1,586.8 L1017.8,585.3 L1018.8,583.9 L1019.5,582.4 L1020.1,580.9 L1021.2,579.6 L1021.7,578 L1021.5,576.2 L1021.9,574.4 L1022.7,572.8 L1023.5,571.4 L1023.6,569.7 L1023.5,568 L1024.1,566.4 L1025.2,564.9 L1025.9,563.3 L1026.1,561.5 L1026.4,559.8 L1026.7,558 L1027.3,556.4 L1028.3,554.8 L1028.8,553.2 L1028.7,551.4 L1028.8,549.6 L1029.3,548 L1030,546.4 L1030.7,544.8 L1031.8,543.3 L1032.5,541.7 L1032.2,539.9 L1032,538 L1032.5,536.4 L1033,534.7 L1033.8,533.2 L1034.4,531.6 L1033.9,529.7 L1033.9,527.9 L1035,526.4 L1035.9,524.9 L1035.9,523.1 L1035.9,521.3 L1037,519.8 L1038.1,518.4 L1038.7,516.7 L1039,515 L1039.3,513.3 L1039.5,511.6 L1040.2,510.1 L1040.8,508.4 L1040.7,506.6 L1041.1,504.8 L1041.7,503 L1041.7,501 L1041.9,499 L1042.7,497.2 L1043.6,495.4 L1043.9,493.6 L1044,491.9 L1044.2,490.4 L1044.1,488.9 L1044.7,487.8 L1045,486.9" fill="none" stroke="#008c47" stroke-width="5.5" stroke-linejoin="round" stroke-linecap="round"/>
<path d="M671,659 L671.3,660.1 L671.8,661.6 L672.3,663.4 L673.6,665 L674.3,666.6 L674.6,668.3 L676,669.7 L677.8,670.2 L679.4,670.9 L680.7,672.3 L681.9,673.3 L683,674.7 L683.9,676.4 L684.9,677.9 L685.8,679.3 L686.8,680.5 L688.5,680.8 L690.1,680 L691.6,679 L693.3,678.4 L695,678.1 L696.6,678 L698.3,678.1 L700,678 L701.5,677.7 L703,677.1 L704.4,676.1 L705.7,674.8 L706.7,673.2 L707.8,671.5 L709,670 L710.1,668.7 L711.6,667.5 L712.8,666.1 L713.5,664.5 L713.9,662.8 L714.7,661.3 L716.6,660.8 L718.4,661.6 L720,662.5 L721.5,663 L723,662.9 L723.9,661.9 L724.8,660.5 L726.2,659.1 L727.3,657.4 L727.7,655.4 L728.5,653.7 L729.6,652.3 L730.7,651 L732,649.9 L733.2,648.7 L734.1,647.3 L734.9,646 L736,644.5 L737.2,643.4 L738.5,642.3 L739.7,640.9 L741.4,639.4 L742.7,638.5 L743.2,636.9 L743.5,635 L744,633.2 L745.3,631.9 L747.3,631.2 L748.8,630 L749.5,628.2 L750.5,626.6 L751.8,625.5 L753.2,624.4 L754.3,623.1 L755,621.4 L755.9,619.9 L757,618.5 L757.6,616.8 L758.2,615.1 L759.4,613.8 L760.7,612.7 L761.9,611.4 L763.2,610.1 L764.7,609 L766.2,607.9 L766.7,606.1 L766.9,604 L768.2,603 L769.7,602.4 L771.1,602.1 L772.8,602 L774.5,601.7 L776.3,601.7 L778,602.2 L779.6,602.4 L781.1,602.1 L782.2,601 L783.1,599.3 L783.4,597.3 L783.9,595.2 L785.8,594.1 L787.3,593.4 L788.4,592.2 L790.1,591.8 L791.9,592 L793.7,591.9 L795.4,591.9 L797,592 L798.7,592.3 L800.2,592.9 L801.8,593.6 L803.4,593.4 L804.9,592.6 L806.4,592 L808,591.3 L809.7,590.6 L811.5,590 L813.4,589.8 L815.1,589.1 L816.4,587.5 L818,586.7 L819.5,586.1 L821.1,585.6 L822.5,587.1 L823.5,589.2 L825.3,590.6 L827,591.2 L828.5,590.9 L829.6,589.6 L830.7,588.1 L831.8,586.5 L833.2,585.2 L834.8,584.3 L836.2,582.8 L837.6,581.4 L839.1,580 L840.7,578.7 L842.7,578.7 L844.5,579.8 L846.1,580.8 L847.5,582 L849.5,582.3 L851.1,580.5 L851.6,578.4 L853,577 L854.7,576.3 L856.3,575.2 L858.2,574.6 L859.9,574.9 L861.3,575 L862.8,575.6 L864.4,576.5 L866,577.4 L867.2,578.7 L868.4,580 L869.9,580.7 L871.8,581.1 L873.7,582 L874.8,584.2 L874.9,585.7 L875.9,586.9 L876.5,588.5 L876.6,590.3 L876.9,592.1 L877.6,593.9 L878,595.7 L878.5,597.4 L879.1,598.9 L879.6,600.3 L880.4,602.1 L881.5,603.5 L882,605.1 L883.1,606.2 L884.4,607.2 L884.9,608.7 L885.7,610.1 L887,611.1 L887.7,612.5 L888.1,614 L889,615.3 L890.2,616.4 L891.4,617.7 L891.7,619.7 L891.9,621.2 L892.4,622.6 L892.7,624.3 L893.7,625.7 L894.9,627.2 L895.5,628.8 L895.9,630.5 L896.6,632.1 L897.1,633.7 L896.9,635.5 L897.6,637.3 L899,638.5 L900.3,639.8 L901,641.3 L901.4,643 L901.9,644.6 L903,646.2 L904,647.8 L904.4,649.4 L904.8,651 L905,652.8 L905.5,654.5 L906.6,656.1 L907.2,657.9 L906.9,659.8 L907.5,661.5 L908.5,662.9 L908.9,664.3 L909.3,665.6 L910.2,667.6 L911.4,668.8 L912.9,669.4 L914,670.4 L914.8,671.7 L916,673 L916.8,674.6 L917.1,676.5 L917.2,678.4 L917.7,680.2 L918.3,682 L918.6,683.7 L918.7,685.4 L919.8,686.9 L921.3,687.8 L922.8,688.4 L924.2,689.2 L925.6,690.5 L926.6,691.8 L927.4,693.2 L927.8,695 L928.5,696.6 L929.5,698 L930.4,699.3 L931.2,700.5 L932.2,702.2 L933.6,703.7 L935.2,704.6 L937,705.1 L938.6,705.8 L940.2,706.7 L942.2,707.3 L943.8,708.2 L945,709.6 L946.6,709.9 L948.1,709.1 L949.4,707.6 L950.2,705.7 L951.3,704 L952.4,702.7 L953.8,701.9 L955.5,702.1 L957.2,702.3 L958.7,701.7 L959.9,700.5 L960.3,699.3 L960.7,697.8 L962,696.4 L963.7,695.1 L964.4,693.3 L964.5,691.4 L965.1,690 L966.3,689.4 L968,689 L969.9,688.8 L972,688.7 L974.1,688.4 L975.2,687.4 L975.6,685.7 L976.1,684.1 L977.1,682.5 L978.2,680.9 L979.2,679.2 L980,677.4 L980.4,675.9 L980.9,674.3 L981.8,672.8 L982.7,671.3 L983.2,669.6 L983.8,668 L984.1,666.4 L984.5,664.8 L985.3,663.5 L986.5,661.9 L987.6,660.4 L989.1,659.5 L990.6,658.6 L992.2,657.6 L993.7,656.1 L994.3,654.7 L994.9,653.2 L995.6,651.7 L996.4,650 L997.7,648.6 L998.9,647.2 L999.7,645.6 L1000.3,644 L1000.3,642.2 L1000.6,640.8 L1002.5,639.5 L1003.9,638.4 L1004.4,636.9 L1005.3,635.7 L1006.2,634.7 L1007.3,633.6 L1008.2,632.3 L1009.4,631.2 L1010.7,630.2 L1011.9,629.1 L1013.4,628.3 L1015,627.5 L1016.5,626.5 L1017.7,625.2 L1018.9,623.7 L1020.4,622.5 L1022,621.5 L1023.1,620 L1023.8,618.1 L1025,616.6 L1026.7,615.7 L1028.2,614.5 L1029.4,613.2 L1030.8,612.1 L1032.1,611.2 L1033.5,610.3 L1034.7,609.2 L1035.9,608.2 L1037.3,607.3 L1038.6,606.3 L1039.8,605 L1041.1,603.4 L1042.3,601.9 L1043.5,600.4 L1044.4,599.1 L1045,598.1" fill="none" stroke="#c25aab" stroke-width="5.5" stroke-linejoin="round" stroke-linecap="round"/>
<path d="M671,358 L671.6,358.9 L671.7,360.3 L672.3,361.7 L673.2,363.3 L673.5,365.2 L673.4,367.4 L673.8,369.6 L674.6,371.9 L675.2,373.2 L675.6,374.5 L675.3,376.1 L675.2,377.6 L675,379.3 L674.8,380.9 L675.3,382.5 L675.6,384.2 L675.5,385.9 L675.9,387.6 L676.4,389.3 L677,391 L677.5,392.6 L677.4,394.3 L676.8,396 L676.8,397.7 L677.5,399.2 L678,400.9 L677.7,402.6 L677.2,404.4 L677.8,406 L678.6,407.6 L678.7,409.3 L679,410.9 L679.7,412.4 L679.8,414.1 L679.9,415.6 L680.2,417.1 L680.2,418.7 L680.4,420.1 L681.1,421.9 L681.6,423.7 L681.6,425.6 L681.9,427.3 L682,429 L681.9,430.7 L682.6,432.2 L683.5,433.7 L684,435.1 L683.8,436.6 L683.7,438 L683.8,440 L683.9,441.8 L684,443.4 L684.3,444.9 L684.4,446.5 L684.6,448.1 L685.3,450 L685.8,451.3 L686,452.9 L686.2,454.4 L686.7,456 L686.9,457.7 L686.8,459.4 L687.1,461.1 L687.6,462.7 L687.8,464.4 L688,466 L688.4,467.6 L688.6,469.3 L689,471 L689.5,472.6 L689.8,474.3 L689.6,476 L689.4,477.7 L690,479.2 L691.1,480.5 L691.6,481.8 L691.8,483.7 L692.3,485.5 L693.5,486.9 L694.8,488 L695.8,489.2 L696.5,490.5 L697.2,491.8 L698.4,493.4 L699.3,495.1 L700.4,496.4 L702,496.8 L703.1,497.2 L704.4,497.3 L705.7,496.7 L707.4,496.1 L709.1,495.2 L710.6,494.3 L712.5,493.6 L714.1,492.4 L715.5,490.9 L716.8,489.5 L718.5,488.6 L720.2,488.7 L721.9,488.7 L722.9,486.9 L723,485.6 L724.3,484.4 L725.1,482.8 L724.9,480.8 L724.9,478.8 L724.9,476.9 L725.4,475.1 L726.5,473.7 L727.4,472.2 L728.6,471.1 L730.2,470.5 L731.6,469.7 L732.9,468.8 L734.2,467.6 L735,466 L735.7,464.7 L737.1,463.5 L738.4,462.2 L739.1,460.5 L739.2,458.6 L739.1,456.7 L739.5,455 L740.6,453.6 L741.6,452.3 L742.7,450.7 L742.8,448.8 L743.2,446.9 L744.5,445.8 L745.5,444.3 L746,442.6 L747,441 L747.8,439.6 L748.3,437.9 L748.6,436.2 L749.7,434.9 L750.6,433.3 L751.3,431.6 L752.4,430 L752.8,427.9 L753.2,426.5 L754.4,425.3 L755,423.8 L755.5,422.2 L756.5,420.8 L757.5,419.4 L757.8,417.6 L757.9,415.7 L758.7,414.2 L759.9,412.9 L760.5,411.5 L761.1,410 L761.9,408.5 L762.6,406.9 L763.5,405.5 L764.6,404.3 L765.4,402.9 L766.2,401.5 L766.8,400.1 L767.5,398.7 L768.4,397.4 L769,396 L769.2,394.2 L769.8,392.6 L771,391.2 L771.9,389.7 L772.7,388.2 L773.5,386.7 L773.9,385.1 L774.3,383.5 L775,382 L775.9,380.5 L777.2,379.2 L777.9,377.7 L778.1,375.9 L778.6,374.4 L779.6,373 L780.2,371.5 L780.8,369.9 L781.8,368.5 L782.8,367.1 L783.6,365.5 L784.4,364 L785.7,362.7 L786.2,361.1 L785.7,359 L786,357.4 L787.6,356.3 L789.4,355.5 L790.3,354.4 L791.1,353 L791.8,351.5 L792.7,349.8 L793.5,348.6 L794.4,347.3 L795.4,346 L796.3,344.5 L797.1,343 L798.1,341.6 L799.6,340.6 L800.5,339.4 L800.9,337.9 L802.2,336.5 L803.7,335.6 L805.2,335 L806.4,334 L807.4,332.7 L809.1,332.2 L810.8,332.4 L812.3,331.9 L813.9,330.7 L815.6,330.1 L817.5,330.5 L819.3,330.9 L821.1,330.7 L822.8,330.3 L824.6,330.1 L826.4,329.9 L828.1,329.5 L829.9,329.4 L831.5,329.9 L832.9,330.5 L834.4,331 L835.9,331.5 L837.3,332.4 L838.2,333.8 L839.1,335.3 L840.5,336.4 L842.2,337 L843.4,338.2 L843.8,340 L844.8,341.5 L846.3,342.5 L847.2,343.9 L848.2,344.9 L849.2,345.7 L850.7,347.3 L852.6,347.3 L854.6,346.3 L856.4,347 L857.7,348.5 L859,349.7 L860.4,350.9 L862.1,351.9 L863.7,352.7 L865,353.9 L865.8,355.6 L866.8,357.4 L868.3,359 L869.1,360.3 L869.9,361.7 L870.8,363.2 L871.5,365 L872.5,366.5 L874.2,367.4 L875.4,368.5 L876.5,369.2 L878,370 L879.3,370.9 L880.8,371.6 L882.1,372.4 L883.7,372.9 L885.4,373.3 L886.5,374.7 L887.2,376.6 L888.2,378.3 L889.6,379.6 L891,380.9 L892,382.2 L893.2,383.4 L894.9,383.9 L896.4,384.5 L897.6,385.4 L898.6,386.8 L899.5,388.3 L900.9,389.4 L902,390.8 L903,392.4 L904.4,393.7 L906,394.7 L907.5,396 L908.7,397.2 L909.9,398.3 L911,399.5 L911.8,401.2 L912.8,402.6 L914.4,403.9 L915.7,405.4 L916.3,406.9 L916.8,408.5 L917.4,410.1 L918.3,411.6 L919.5,413 L920.7,414.4 L921.4,416.1 L922,417.9 L922.6,419.6 L923.1,421.3 L923.8,422.7 L924.5,424.1 L924.6,425.7 L924.4,427.4 L924.8,428.9 L926,430.1 L926.9,431.5 L926.8,433.2 L927.2,434.9 L928.2,436.4 L928.9,438 L929.3,439.5 L929.9,440.9 L930.8,442.3 L931.5,443.8 L931.9,445.5 L932.7,447.1 L933.4,448.6 L934,450.3 L934.1,452 L933.9,453.9 L934.6,455.4 L935.9,456.7 L936.5,458 L936.9,459.5 L937.7,461.2 L938.3,462.9 L938.4,464.6 L938.7,466.2 L939.2,467.6 L939.8,469.1 L940.7,470.4 L941.6,471.8 L942.3,473.3 L943,475 L943.2,476.6 L943.1,478.3 L943.6,480 L944.5,481.5 L945.2,483.1 L945.8,484.8 L946,486.6 L946.6,488.3 L947.2,489.9 L948,491.5 L948.7,493 L948.7,494.6 L948.8,496.5 L949.9,498 L950.8,499.5 L951.3,501.2 L952,502.6 L952.7,504.1 L953.3,505.6 L953.7,507.1 L954.3,508.6 L955.4,509.9 L956.1,511.4 L956.4,513.1 L956.7,514.7 L957.2,516.3 L957.8,517.8 L958.3,519.3 L959,520.8 L959.7,522.3 L960.1,524 L961,525.4 L962,526.9 L962.5,528.6 L962.7,530.5 L962.7,532.4 L963.4,534 L964.4,535.5 L964.6,537.1 L964.8,538.7 L965.6,539.8 L966.9,541.5 L967.5,543 L968.5,544 L969.7,545 L970.5,546.7 L970.4,548.4 L970.7,550.2 L971.6,551.7 L973,553.1 L974.3,554.6 L975.1,556.3 L975.7,557.9 L976.1,559.6 L976.4,561.6 L976.7,563.6 L977.1,565.5 L977.6,567.3 L977.8,568.9 L978.4,570.2 L980.1,571.3 L981.7,571.5 L982.8,572.7 L983.8,574.4 L985.8,575.8 L987,576.9 L987.8,578.5 L988.7,580.2 L989.4,581.8 L990.2,582.8 L992.3,583.8 L994.6,584 L996.2,583.9 L997.9,583.8 L999.8,583.3 L1001.4,582.8 L1002.8,581.7 L1004.2,580.4 L1005.6,579.3 L1006.6,577.9 L1007.1,576 L1007.8,574.3 L1008.4,572.8 L1009,571.9 L1010.3,572.2 L1011.8,573.5 L1013.5,573.8 L1015,572.7 L1015.5,570.9 L1014.9,568.6 L1015.2,566.4 L1016.3,565.2 L1017,563.8 L1017.3,562.1 L1018,560.5 L1019.2,559.1 L1019.7,557.4 L1020,555.6 L1021.1,554.1 L1021.8,552.4 L1021.9,550.5 L1022.7,548.7 L1023.9,547.2 L1024.3,545.6 L1024.5,544.1 L1024.7,542.6 L1025.1,541.1 L1026.1,539.7 L1026.9,537.9 L1027.3,535.8 L1027.6,534.5 L1028.2,533.2 L1029.1,532 L1029.7,530.5 L1029.9,528.9 L1030.5,527.4 L1030.8,525.7 L1030.9,523.9 L1032.1,522.5 L1033.4,521.2 L1033.9,519.5 L1034.2,517.8 L1034.9,516.3 L1035.2,514.6 L1034.9,512.7 L1035.2,510.9 L1035.7,509.1 L1036.3,507.4 L1037.2,505.8 L1037.6,504 L1038.1,502.3 L1039,500.7 L1039.3,499.1 L1038.8,497.3 L1038.7,495.7 L1039.3,494.4 L1040.5,492.3 L1041.3,490.4 L1042.3,488.7 L1043.5,487.2 L1043.9,485.7 L1043.7,484.2 L1044,483 L1044.4,480.2 L1045,479" fill="none" stroke="#1a52a8" stroke-width="5.5" stroke-linejoin="round" stroke-linecap="round"/>
<path d="M670,230 L670.7,230.9 L671.2,232.3 L672.5,233.7 L673.3,235.6 L674.1,237.5 L674.9,239.1 L676.1,240.2 L677,240.9 L678.6,241 L680,239.4 L681.5,238 L682.9,238.2 L683.3,239.5 L684.7,241.1 L686.2,243.1 L686.6,245.4 L687,247.3 L688,248.3 L689.7,247.8 L690.4,245.4 L690.9,242.6 L692.1,240.7 L693,239.9 L694.1,240.5 L694.6,242.1 L694.7,244.2 L695.1,246.5 L696.2,248.4 L696.8,249.8 L697.2,250.4 L697.9,250.4 L699.1,249.8 L700.8,248.9 L702.2,247.4 L703.3,245.6 L704.6,244.3 L706.4,243.5 L708.2,243.8 L709.9,244.1 L711.6,244.1 L713.5,243.9 L714.5,242.3 L715.2,240.4 L716.4,238.9 L717.6,237.6 L718.9,236.5 L720,235.9 L722,235.1 L724.5,235.7 L725.9,238.4 L725.5,240.3 L725.9,242.1 L726.7,243.9 L727.4,245.9 L728,247.9 L728.7,249.8 L729.6,251.3 L730.6,252.6 L732.4,253.2 L734.1,252.6 L735.9,252.4 L737.6,251.9 L738.8,250.6 L740.8,249 L743.1,248.4 L745.3,248.4 L747.5,249.9 L748.2,252.5 L747.7,254.6 L748.3,255.5 L748.9,254.4 L748.9,252.9 L749.6,251.2 L749.6,249.1 L749.3,246.7 L750.2,244.6 L751.3,242.6 L752.2,240.8 L753,239.2 L752.7,237.8 L752.8,236.6 L753.9,236.9 L754.5,238.5 L754.7,240.8 L754.6,243.4 L755.2,245.6 L757,245.9 L757.4,244.9 L758.5,244 L760.4,242.8 L762.1,241.7 L763.3,240.6 L764.6,240.5 L766.1,240.6 L767.9,239.4 L769.8,239.4 L771.3,240.9 L772.7,241.6 L774.6,241.6 L776.2,242.4 L777.2,244 L778.4,245.4 L779.9,246.5 L781.4,247.6 L782.5,248.7 L783.5,250.1 L784.6,251.3 L785.8,252.5 L787.3,253.4 L788.6,254.3 L789.5,255.6 L790.6,257.3 L791.6,259.1 L792.8,260.5 L793.8,262 L794.8,263.5 L796.3,264.3 L798,264.3 L799.8,264.3 L801.6,264.3 L803.1,263.2 L804.2,262 L805.9,261.6 L807.3,260.5 L808,258.5 L809.5,257.5 L811.3,257.5 L812.6,256.3 L814,255.1 L815.8,255.3 L817.4,255.3 L819,254.7 L820.8,254.3 L822.5,254.8 L824,255.9 L825.4,257 L827.5,257.4 L828.9,258.4 L829.2,260.2 L829.5,262.1 L830.5,263.6 L832.2,264.7 L832.6,266.4 L832.8,268.2 L834.2,269.3 L835.6,270.1 L836.9,271.3 L838.1,272.3 L839.8,272.8 L841.3,273.6 L842.5,274.9 L843.7,276 L844.9,277.2 L846.3,278.1 L847.6,279.1 L848.9,280.2 L850.4,281.4 L852.1,282.3 L853.7,283.2 L855.3,284.2 L857.5,284.2 L859.4,284.6 L860.8,285.8 L862.1,287 L863.4,288.5 L864.8,289.6 L866.5,290.1 L868,290.2 L869.5,290.7 L870.9,291 L872.9,290.4 L874.5,290.5 L875.9,291.8 L877.3,293.2 L879.1,294 L881.1,294.5 L882.7,295.3 L884.1,296 L885.7,296.5 L887.4,297.2 L889.2,297.4 L890.8,296.9 L892.5,296.5 L894.1,296.1 L895.7,295.2 L896.6,293.4 L897.5,291.8 L898.9,290.5 L900.3,289.6 L901.7,288.8 L903.1,287.8 L904.7,287.2 L906.4,287.5 L908,287.4 L909.4,286.6 L911,286 L912.2,284.8 L912.3,282.8 L912.9,281 L913.6,279.3 L914.6,277.8 L916.5,277.1 L918.3,276.8 L920.1,277 L922.1,277.6 L924.1,276.8 L924.6,275.1 L924.7,273.3 L925.2,271.5 L925.2,269.5 L925.5,267.6 L926.2,265.9 L926.6,264.4 L927.5,263.7 L928.7,263.1 L929.9,262.1 L931.5,261.3 L933,261 L934.6,260.9 L936.2,260.3 L937.8,259.2 L938.9,257.6 L939.9,255.8 L941.3,254.6 L942.6,253.4 L944,252 L945.6,251.2 L947.3,250.8 L949,250.6 L950.7,250.5 L952.1,249.5 L953.5,248.1 L955.1,248.2 L957,249.3 L958.8,248.6 L959.6,246.3 L960.7,244.4 L962.4,243.1 L963.8,241.8 L965.2,241.2 L966.1,242.5 L966.1,244.5 L966.5,246.7 L967.3,248.7 L968.8,249.9 L970.9,249.8 L973.1,249.4 L974.3,249.5 L974.9,249.9 L975.6,251.1 L976.9,252.6 L978.2,254.2 L979,255.9 L979.7,257.6 L980.1,259 L980.8,260.6 L981.7,261.7 L983,262.1 L984.8,262.7 L986.6,264.6 L986.9,265.9 L986.4,267.6 L986.6,269.1 L987.2,270.6 L988,272.2 L988.6,273.9 L988.6,275.8 L988.6,277.7 L989.4,279.5 L990.4,281.2 L990.3,283.2 L990.2,285.1 L991.2,286.7 L992,288.1 L991.8,290 L991.9,291.8 L992.6,293.3 L994,294.7 L995.3,296.1 L995.6,297.9 L995.5,299.7 L995.9,301.4 L996.7,302.8 L997.3,304.2 L998.1,305.6 L998.8,306.8 L999.1,308.2 L999.4,310.2 L1000.3,311.5 L1001.8,312.1 L1003,312.7 L1003.8,313.8 L1004.1,315.4 L1004.4,317.4 L1005.2,319.8 L1005.7,320.9 L1005.6,322.2 L1005.6,323.6 L1006.3,325.1 L1006.9,326.6 L1007.2,328.2 L1007.3,330 L1007.3,331.8 L1007,333.6 L1007.1,335.5 L1008.2,337.2 L1008.6,339 L1007.9,340.9 L1009,342.6 L1010.4,344.1 L1010.4,345.8 L1010.7,347.4 L1011.1,348.9 L1010.2,350.6 L1009.6,352.1 L1010.6,353.1 L1011.7,355.4 L1012,357.4 L1012.8,359 L1014,360.1 L1014.9,361.2 L1015.3,362.5 L1015.3,364 L1015.8,365.4 L1016.9,366.7 L1017.6,368.1 L1018,369.7 L1018.7,371.2 L1019,372.9 L1019.6,374.4 L1021,375.7 L1021.8,377.3 L1022.1,378.9 L1022.3,380.7 L1022.8,382.3 L1024.2,383.5 L1025.3,385 L1024.9,387 L1023.9,389.1 L1024.4,390.8 L1026.3,391.9 L1027.6,393.2 L1027.9,394.8 L1028,396.5 L1028.1,398.1 L1028.4,399.9 L1029.1,401.6 L1029.9,403.2 L1030.6,404.8 L1032,405.9 L1033,407.1 L1033.1,408.8 L1034,409.9 L1035.5,411.2 L1036.5,412.8 L1037.7,413.8 L1039.1,414.5 L1039.8,415.8 L1041.3,417.8 L1043.3,419 L1044.1,420.4" fill="none" stroke="#ec3340" stroke-width="5.5" stroke-linejoin="round" stroke-linecap="round"/>
<path d="M670,53 L671,53.8 L671.4,55.3 L672.4,56.8 L671.9,59 L671.5,61.2 L673.2,62.8 L674.2,64.3 L674.7,65.7 L675.9,67.3 L675.9,69.1 L675.9,70.8 L677.3,71.6 L678.6,72.5 L679.5,73.6 L680.7,74.4 L681.9,75.6 L683,77 L684.3,78.9 L684.5,80.2 L684,81.8 L684,83.5 L684.4,85.3 L684.8,87.2 L685.1,89.1 L685,91.1 L685,93 L685.2,94.8 L685.6,96.5 L686.1,98 L686.4,99.9 L686.5,101.7 L687.2,103.2 L688,104.5 L689.1,105.7 L690.7,106.6 L691.4,108 L691.4,109.8 L691.9,111.5 L692.9,112.9 L694.5,114.1 L695.6,115.5 L695.9,117.3 L695.6,119.3 L695.9,121 L697.4,121.8 L699,123.3 L699.8,125.2 L700.2,127.2 L701.2,128.7 L702.9,129.3 L704.5,128.8 L706,128.1 L707.7,127.4 L709.5,127 L711.1,127.8 L712.3,128.8 L713.3,130.3 L713.4,132.6 L713.6,134.8 L714,136.8 L715.1,138.3 L717,138.6 L718.7,137.8 L719.9,135.8 L720.8,133.3 L722.1,131.7 L722.9,131.4 L723.6,131.8 L724.4,133.2 L725.2,135.2 L726.1,137.3 L726.6,139.4 L726.4,141.5 L726.7,143.1 L728,143.1 L728.2,142 L728.9,141.1 L729.9,139.7 L730.8,137.9 L731.6,135.8 L732.6,133.9 L733.8,132.2 L734.6,130.6 L735.2,129.4 L735.9,128.6 L737.3,128.9 L738.2,130.3 L738.7,132.2 L738.6,134.6 L738.8,136.8 L739.2,138.8 L739.7,140.2 L741.4,141.8 L743,143.1 L745.3,142.9 L746.1,141.5 L746.9,140.1 L748.1,138.9 L749.2,137.4 L750.3,135.9 L751.8,135 L753,134 L754.4,132.7 L756.5,132.8 L758.3,133.1 L759.5,131.7 L761,131 L762.6,131.3 L764.3,132.1 L765.9,133.2 L767.9,133.4 L769.3,133.7 L770.6,134.8 L772.2,135.2 L773.8,135 L775.5,134.9 L777.1,134.2 L778.5,133.1 L780.2,132.4 L782.2,132.2 L783.7,131.4 L785,131.1 L786.3,132.1 L787.6,133.8 L788.6,135.4 L790.3,135.5 L791,134.4 L791.1,132.7 L791.7,131 L792.5,129.2 L792.8,127 L793.5,124.9 L794.3,123 L794.5,121 L795.3,119.4 L796.7,118.7 L798.5,117.8 L800.2,117.4 L802,117.7 L803.6,118.7 L804.9,120.1 L805.8,121.5 L807.1,122.6 L808.8,123.5 L810.3,124.6 L811.7,125.5 L813.1,125.5 L814.6,126 L816.7,126.9 L818.4,126 L819.7,124.5 L821,123 L821.7,121.3 L822.7,119.8 L824.3,118.8 L826.2,118.1 L827.5,117.1 L829,116.7 L830.6,117.4 L832.3,118.4 L834.1,119.6 L835.6,120.9 L837,121.9 L838.6,121.8 L840.2,121.5 L842.1,121.7 L843.9,121.5 L845.4,120.7 L846.9,119 L848.4,117.3 L849.8,116.4 L851,116 L852.1,116.6 L852.5,118.2 L852.5,120.1 L853.3,122 L854.5,123.8 L855.2,125.8 L855.4,127.7 L855.5,129.5 L856.6,130.8 L858.8,130.6 L860.6,129.4 L862.6,128.5 L864.5,128.5 L865.4,128.8 L866.8,129.2 L868.4,129.8 L870,130.5 L871.5,131.5 L872.5,133.1 L873.5,134.8 L875,135.6 L876.7,135.7 L878.3,136.1 L879.8,136.8 L881.3,137.4 L882.8,138.2 L884.1,139.1 L885.6,140.1 L886.7,141.4 L888.1,142.6 L889.8,143.2 L891.4,144 L892.5,145.3 L893.7,146.5 L895.4,147.1 L897.1,147.2 L898.8,147.7 L900.4,148.7 L901.9,149.2 L903.6,148.7 L905.7,148.4 L907.6,148 L909.7,147.4 L911.9,148.2 L912.9,149.7 L913.6,151.3 L914.5,153.1 L915.7,154.8 L916.4,156.8 L917.1,158.6 L919,159.2 L919.6,160 L921.2,161.8 L923.3,161.2 L925,159.7 L927,160 L927.7,161.4 L929.1,162.1 L930.9,162.8 L931.7,164.6 L932.6,166.5 L934.2,167.4 L935.8,168.1 L937.1,169 L938.5,169.8 L940,170.4 L941.2,171.6 L941.8,173.5 L942.9,174.7 L945.1,175 L946.8,175.7 L947.5,177.6 L948.2,179.6 L950.3,180.4 L951.7,181.3 L951.8,183.2 L952.8,184.5 L954.1,185.6 L954.5,187.5 L955.2,189.2 L956.5,190.6 L958.2,192 L958.8,193.3 L958.6,195.1 L959.8,196.3 L961.1,197.7 L961.4,199.4 L961.8,201.2 L962.9,202.6 L963.6,204.1 L963.7,205.9 L964.2,207.4 L965.1,208.6 L965.7,209.8 L966.9,211.8 L968.5,213 L970.1,213.9 L971.1,215.3 L971.9,216.9 L972.9,218.4 L974,219.5 L975.4,220.6 L977,221.7 L978.2,223 L979.5,224.2 L981,224.9 L982.2,225.3 L983.5,226.2 L984.8,226.9 L986.4,227.2 L987.8,227.9 L989.1,228.8 L990.4,229.5 L992.1,230.5 L993.7,232 L994.9,233.6 L995.7,235.2 L996.5,236.4 L997.3,236.8 L997.8,236.2 L997.9,234.8 L998.5,233 L999.3,231.1 L999.6,229 L1000.7,227.5 L1002.8,227 L1004.9,227.1 L1007,228.2 L1009.3,227.9 L1010,226 L1011.5,225.1 L1013.5,224.7 L1014.4,222.9 L1014.8,220.8 L1016.2,219.5 L1017.9,218.6 L1019.2,217.2 L1020.6,216.3 L1022.4,216.2 L1024.3,215.2 L1025.3,214.3 L1026.5,213.1 L1027.4,211.5 L1028.3,209.8 L1029.5,208.3 L1029.9,206.3 L1030,204.2 L1030.8,202.7 L1031.7,201.3 L1032.9,199.4 L1034.6,198.5 L1036.1,197.8 L1037.4,196.9 L1038.7,195.8 L1040.2,194 L1041.4,193 L1042.1,191.5 L1042,189.6 L1042.3,187.7 L1042.5,185.7 L1042.6,183.7 L1043.5,181.8 L1044.2,179.9 L1044.7,178.1 L1044.5,176.3 L1044.1,174.7 L1045.1,173.6 L1045,172.5" fill="none" stroke="#1e1c1d" stroke-width="5.5" stroke-linejoin="round" stroke-linecap="round"/>
<path d="M288.3,495.2 L247.8,869.7" fill="none" stroke="#767779" stroke-width="1.75" stroke-dasharray="11.5 7.7"/>
<path d="M244.8,884.2 L236.4,862.9 L247.8,869.7 L257.3,866.7 Z" fill="#767779"/>
<path d="M241.3,897.1 L381.6,931 L358.5,1052" fill="none" stroke="#767779" stroke-width="1.75" stroke-dasharray="11.5 7.7"/>
<path d="M353,1066 L348,1045 L357.8,1053.5 L369,1052 Z" fill="#767779"/>
<path d="M1017.8,73 L877.7,164.6 L877.7,241.8" fill="none" stroke="#231f20" stroke-width="2" stroke-dasharray="10.8 10.7"/>
<path d="M877.7,257.9 L866.7,237.9 L877.7,241.8 L888.7,237.9 Z" fill="#231f20"/>
<path d="M979.7,102.2 L979.7,182" fill="none" stroke="#231f20" stroke-width="2" stroke-dasharray="10.8 10.7"/>
<path d="M979.7,197 L968.7,177 L979.7,181 L990.7,177 Z" fill="#231f20"/>
<path d="M1036.9,391.4 L772.5,984.4" fill="none" stroke="#767779" stroke-width="1.75" stroke-dasharray="11 12.5"/>
<path d="M773,986 L773.2,1060" fill="none" stroke="#767779" stroke-width="1.75" stroke-dasharray="13 11"/>
<path d="M999.2,479 L999.2,556" fill="none" stroke="#767779" stroke-width="1.75" stroke-dasharray="13 11"/>
<path d="M999.7,574.6 L985.1,549.1 L999.7,554 L1014.6,549.1 Z" fill="#767779"/>
<path d="M949.5,588.4 L950.4,668" fill="none" stroke="#767779" stroke-width="1.75" stroke-dasharray="13 11"/>
<path d="M950.4,685.1 L935.8,659.6 L950.4,664.5 L965.3,659.6 Z" fill="#767779"/>
<path d="M890.2,730 L890.9,836" fill="none" stroke="#767779" stroke-width="1.75" stroke-dasharray="13 11"/>
<path d="M890.9,853 L876.3,827.5 L890.9,832.4 L905.8,827.5 Z" fill="#767779"/>
<path d="M773.2,1081 L758.6,1055.5 L773.2,1060.4 L788.1,1055.5 Z" fill="#767779"/>
<text transform="translate(-0.02 31.90) scale(0.9012 1)" font-family='"Liberation Sans", Arial, sans-serif' font-size="34.75" font-weight="bold" font-style="normal" fill="#231f20">a</text>
<text transform="translate(583.26 32.20) scale(0.9533 1)" font-family='"Liberation Sans", Arial, sans-serif' font-size="37.26" font-weight="bold" font-style="normal" fill="#231f20">b</text>
<text transform="translate(336.27 50.60) scale(0.8308 1)" font-family='"Liberation Sans", Arial, sans-serif' font-size="33.72" font-weight="normal" font-style="normal" fill="#231f20" stroke="#ffffff" stroke-width="0.60">1.771 eV</text>
<text transform="translate(124.39 409.90) scale(0.9378 1)" font-family='"Liberation Sans", Arial, sans-serif' font-size="32.27" font-weight="normal" font-style="normal" fill="#231f20" stroke="#ffffff" stroke-width="0.60">8.5 K</text>
<text transform="translate(131.14 505.90) scale(0.9628 1)" font-family='"Liberation Sans", Arial, sans-serif' font-size="32.27" font-weight="normal" font-style="normal" fill="#ec3340" stroke="#ffffff" stroke-width="0.60">29 K</text>
<text transform="translate(138.30 673.90) scale(0.8543 1)" font-family='"Liberation Sans", Arial, sans-serif' font-size="32.27" font-weight="normal" font-style="normal" fill="#1a52a8" stroke="#ffffff" stroke-width="0.60">61 K</text>
<text transform="translate(124.65 803.90) scale(0.8343 1)" font-family='"Liberation Sans", Arial, sans-serif' font-size="32.27" font-weight="normal" font-style="normal" fill="#c25aab" stroke="#ffffff" stroke-width="0.60">115 K</text>
<text transform="translate(114.35 883.30) scale(0.9836 1)" font-family='"Liberation Sans", Arial, sans-serif' font-size="31.40" font-weight="normal" font-style="normal" fill="#008c47" stroke="#ffffff" stroke-width="0.60">140 K</text>
<text transform="translate(119.50 943.30) scale(0.9205 1)" font-family='"Liberation Sans", Arial, sans-serif' font-size="31.40" font-weight="normal" font-style="normal" fill="#243079" stroke="#ffffff" stroke-width="0.60">155 K</text>
<text transform="translate(115.38 1015.30) scale(0.9710 1)" font-family='"Liberation Sans", Arial, sans-serif' font-size="31.40" font-weight="normal" font-style="normal" fill="#5b4ba9" stroke="#ffffff" stroke-width="0.60">180 K</text>
<text transform="translate(118.22 1076.30) scale(0.8947 1)" font-family='"Liberation Sans", Arial, sans-serif' font-size="32.85" font-weight="normal" font-style="normal" fill="#8f2193" stroke="#ffffff" stroke-width="0.60">210 K</text>
<text transform="translate(82.48 1172.00) scale(1.0888 1)" font-family='"Liberation Sans", Arial, sans-serif' font-size="33.43" font-weight="normal" font-style="normal" fill="#231f20" stroke="#ffffff" stroke-width="0.60">0</text>
<text transform="translate(182.87 1172.00) scale(1.0794 1)" font-family='"Liberation Sans", Arial, sans-serif' font-size="33.43" font-weight="normal" font-style="normal" fill="#231f20" stroke="#ffffff" stroke-width="0.60">40</text>
<text transform="translate(291.87 1172.00) scale(1.1241 1)" font-family='"Liberation Sans", Arial, sans-serif' font-size="33.43" font-weight="normal" font-style="normal" fill="#231f20" stroke="#ffffff" stroke-width="0.60">80</text>
<text transform="translate(395.26 1172.00) scale(0.9571 1)" font-family='"Liberation Sans", Arial, sans-serif' font-size="33.43" font-weight="normal" font-style="normal" fill="#231f20" stroke="#ffffff" stroke-width="0.60">120</text>
<text transform="translate(166.50 1220.80) scale(0.9810 1)" font-family='"Liberation Sans", Arial, sans-serif' font-size="33.58" font-weight="normal" font-style="normal" fill="#231f20" stroke="#ffffff" stroke-width="0.60">Magnetic field (T)</text>
<text transform="translate(77.90 708.20) rotate(-90) translate(-1.00 0.00) scale(0.9303 1)" font-family='"Liberation Sans", Arial, sans-serif' font-size="33.72" font-weight="normal" font-style="normal" fill="#231f20" stroke="#ffffff" stroke-width="0.60">Transmission (a.u.)</text>
<text transform="translate(692.40 90.30) scale(0.8814 1)" font-family='"Liberation Sans", Arial, sans-serif' font-size="34.30" font-weight="normal" font-style="normal" fill="#231f20" stroke="#ffffff" stroke-width="0.60">1.959 eV</text>
<text transform="translate(693.36 213.30) scale(0.9359 1)" font-family='"Liberation Sans", Arial, sans-serif' font-size="32.85" font-weight="normal" font-style="normal" fill="#ec3340" stroke="#ffffff" stroke-width="0.60">1.850 eV</text>
<text transform="translate(693.47 326.30) scale(0.8893 1)" font-family='"Liberation Sans", Arial, sans-serif' font-size="32.85" font-weight="normal" font-style="normal" fill="#1a52a8" stroke="#ffffff" stroke-width="0.60">1.810 eV</text>
<text transform="translate(693.57 576.30) scale(0.8505 1)" font-family='"Liberation Sans", Arial, sans-serif' font-size="32.85" font-weight="normal" font-style="normal" fill="#c25aab" stroke="#ffffff" stroke-width="0.60">1.771 eV</text>
<text transform="translate(693.44 790.30) scale(0.9048 1)" font-family='"Liberation Sans", Arial, sans-serif' font-size="32.85" font-weight="normal" font-style="normal" fill="#008c47" stroke="#ffffff" stroke-width="0.60">1.746 eV</text>
<text transform="translate(690.96 976.70) scale(0.9132 1)" font-family='"Liberation Sans", Arial, sans-serif' font-size="32.27" font-weight="normal" font-style="normal" fill="#243079" stroke="#ffffff" stroke-width="0.60">1.722 eV</text>
<text transform="translate(948.70 67.20) scale(0.8701 1)" font-family='"Liberation Sans", Arial, sans-serif' font-size="33.72" font-weight="normal" font-style="italic" fill="#231f20" stroke="#ffffff" stroke-width="0.60">N</text>
<text transform="translate(978.07 67.20) scale(0.9286 1)" font-family='"Liberation Sans", Arial, sans-serif' font-size="33.72" font-weight="normal" font-style="normal" fill="#231f20" stroke="#ffffff" stroke-width="0.60">= 2</text>
<text transform="translate(952.93 424.20) scale(0.8394 1)" font-family='"Liberation Sans", Arial, sans-serif' font-size="33.58" font-weight="normal" font-style="italic" fill="#7b7c7e" stroke="#ffffff" stroke-width="0.60">N</text>
<text transform="translate(982.42 424.20) scale(0.7805 1)" font-family='"Liberation Sans", Arial, sans-serif' font-size="33.58" font-weight="normal" font-style="normal" fill="#7b7c7e" stroke="#ffffff" stroke-width="0.60">= 1</text>
<text transform="translate(659.72 1172.40) scale(1.2288 1)" font-family='"Liberation Sans", Arial, sans-serif' font-size="30.81" font-weight="normal" font-style="normal" fill="#231f20" stroke="#ffffff" stroke-width="0.60">0</text>
<text transform="translate(752.08 1172.40) scale(1.1649 1)" font-family='"Liberation Sans", Arial, sans-serif' font-size="30.81" font-weight="normal" font-style="normal" fill="#231f20" stroke="#ffffff" stroke-width="0.60">40</text>
<text transform="translate(852.13 1172.40) scale(1.1755 1)" font-family='"Liberation Sans", Arial, sans-serif' font-size="30.81" font-weight="normal" font-style="normal" fill="#231f20" stroke="#ffffff" stroke-width="0.60">80</text>
<text transform="translate(946.93 1172.40) scale(1.0092 1)" font-family='"Liberation Sans", Arial, sans-serif' font-size="30.81" font-weight="normal" font-style="normal" fill="#231f20" stroke="#ffffff" stroke-width="0.60">120</text>
<text transform="translate(732.71 1220.30) scale(1.0298 1)" font-family='"Liberation Sans", Arial, sans-serif' font-size="31.83" font-weight="normal" font-style="normal" fill="#231f20" stroke="#ffffff" stroke-width="0.60">Magnetic field (T)</text>
<text transform="translate(654.10 708.20) rotate(-90) translate(-1.00 0.00) scale(0.9181 1)" font-family='"Liberation Sans", Arial, sans-serif' font-size="34.01" font-weight="normal" font-style="normal" fill="#231f20" stroke="#ffffff" stroke-width="0.60">Transmission (a.u.)</text>
</svg>
</body></html>
